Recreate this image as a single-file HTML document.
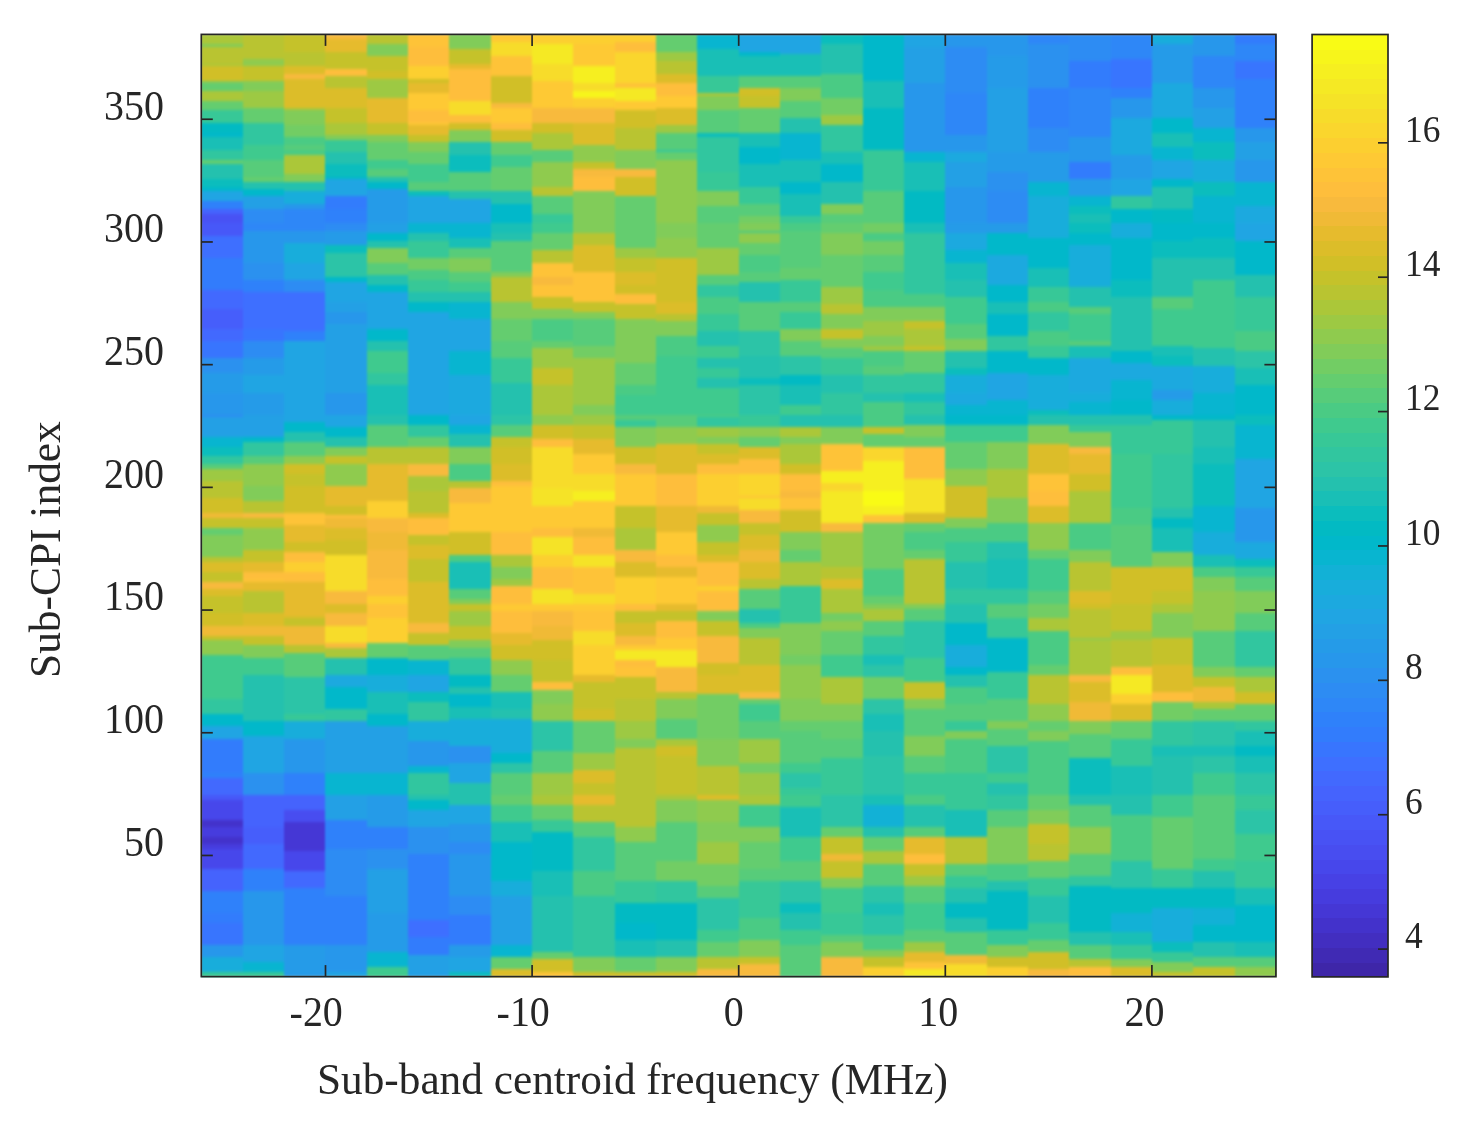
<!DOCTYPE html>
<html><head><meta charset="utf-8"><style>
html,body{margin:0;padding:0;background:#fff;width:1474px;height:1128px;overflow:hidden}
svg{display:block;will-change:transform}
text{font-family:"Liberation Serif",serif;fill:#262626}
</style></head><body>
<svg width="1474" height="1128" viewBox="0 0 1474 1128">
<rect width="1474" height="1128" fill="#fff"/>
<defs><filter id="bl" x="0" y="0" width="1" height="1" color-interpolation-filters="sRGB"><feGaussianBlur stdDeviation="0.9 1.4" edgeMode="duplicate"/></filter></defs>
<g shape-rendering="crispEdges" filter="url(#bl)">
<rect x="201.30" y="34.40" width="41.93" height="10.41" fill="#abc739"/>
<rect x="201.30" y="44.21" width="41.93" height="3.05" fill="#81cc59"/>
<rect x="201.30" y="46.67" width="41.93" height="17.78" fill="#b9c431"/>
<rect x="201.30" y="63.84" width="41.93" height="3.05" fill="#abc739"/>
<rect x="201.30" y="66.30" width="41.93" height="15.32" fill="#d1bf27"/>
<rect x="201.30" y="81.02" width="41.93" height="3.05" fill="#81cc59"/>
<rect x="201.30" y="83.47" width="41.93" height="7.96" fill="#64cd6f"/>
<rect x="201.30" y="90.83" width="41.93" height="10.41" fill="#abc739"/>
<rect x="201.30" y="100.65" width="41.93" height="10.41" fill="#64cd6f"/>
<rect x="201.30" y="110.46" width="41.93" height="12.87" fill="#37c897"/>
<rect x="201.30" y="122.73" width="41.93" height="10.41" fill="#02bac3"/>
<rect x="201.30" y="132.55" width="41.93" height="5.51" fill="#01b8ca"/>
<rect x="201.30" y="137.45" width="41.93" height="12.87" fill="#19bfb6"/>
<rect x="201.30" y="149.72" width="41.93" height="10.41" fill="#31c69f"/>
<rect x="201.30" y="159.54" width="41.93" height="5.51" fill="#64cd6f"/>
<rect x="201.30" y="164.44" width="41.93" height="15.32" fill="#24c1ae"/>
<rect x="201.30" y="179.17" width="41.93" height="7.96" fill="#0bbdbd"/>
<rect x="201.30" y="186.53" width="41.93" height="5.51" fill="#01b8ca"/>
<rect x="201.30" y="191.43" width="41.93" height="10.41" fill="#20a5e3"/>
<rect x="201.30" y="201.25" width="41.93" height="7.96" fill="#2f81fa"/>
<rect x="201.30" y="208.61" width="41.93" height="5.51" fill="#4563fd"/>
<rect x="201.30" y="213.52" width="41.93" height="10.41" fill="#4852f4"/>
<rect x="201.30" y="223.33" width="41.93" height="12.87" fill="#4758f8"/>
<rect x="201.30" y="235.60" width="41.93" height="22.68" fill="#3e6fff"/>
<rect x="201.30" y="257.68" width="41.93" height="22.68" fill="#327cfc"/>
<rect x="201.30" y="279.76" width="41.93" height="10.41" fill="#327cfc"/>
<rect x="201.30" y="289.58" width="41.93" height="20.23" fill="#4269fe"/>
<rect x="201.30" y="309.21" width="41.93" height="20.23" fill="#465efb"/>
<rect x="201.30" y="328.84" width="41.93" height="12.87" fill="#4269fe"/>
<rect x="201.30" y="341.11" width="41.93" height="17.78" fill="#3875fe"/>
<rect x="201.30" y="358.28" width="41.93" height="15.32" fill="#2b91ef"/>
<rect x="201.30" y="373.00" width="41.93" height="20.23" fill="#259be8"/>
<rect x="201.30" y="392.63" width="41.93" height="22.68" fill="#2797eb"/>
<rect x="201.30" y="414.72" width="41.93" height="3.05" fill="#2d8cf3"/>
<rect x="201.30" y="417.17" width="41.93" height="20.23" fill="#23a0e5"/>
<rect x="201.30" y="436.80" width="41.93" height="10.41" fill="#08b5d0"/>
<rect x="201.30" y="446.61" width="41.93" height="10.41" fill="#0bbdbd"/>
<rect x="201.30" y="456.43" width="41.93" height="7.96" fill="#31c69f"/>
<rect x="201.30" y="463.79" width="41.93" height="5.51" fill="#57cc7a"/>
<rect x="201.30" y="468.70" width="41.93" height="12.87" fill="#9dc943"/>
<rect x="201.30" y="480.96" width="41.93" height="17.78" fill="#b9c431"/>
<rect x="201.30" y="498.14" width="41.93" height="15.32" fill="#d1bf27"/>
<rect x="201.30" y="512.86" width="41.93" height="5.51" fill="#f0ba36"/>
<rect x="201.30" y="517.77" width="41.93" height="10.41" fill="#c5c22a"/>
<rect x="201.30" y="527.58" width="41.93" height="7.96" fill="#64cd6f"/>
<rect x="201.30" y="534.94" width="41.93" height="7.96" fill="#81cc59"/>
<rect x="201.30" y="542.30" width="41.93" height="15.32" fill="#81cc59"/>
<rect x="201.30" y="557.03" width="41.93" height="5.51" fill="#b9c431"/>
<rect x="201.30" y="561.93" width="41.93" height="10.41" fill="#dcbd29"/>
<rect x="201.30" y="571.75" width="41.93" height="10.41" fill="#c5c22a"/>
<rect x="201.30" y="581.56" width="41.93" height="7.96" fill="#f8ba3d"/>
<rect x="201.30" y="588.92" width="41.93" height="7.96" fill="#dcbd29"/>
<rect x="201.30" y="596.28" width="41.93" height="17.78" fill="#c5c22a"/>
<rect x="201.30" y="613.46" width="41.93" height="12.87" fill="#d1bf27"/>
<rect x="201.30" y="625.73" width="41.93" height="10.41" fill="#f0ba36"/>
<rect x="201.30" y="635.54" width="41.93" height="5.51" fill="#c5c22a"/>
<rect x="201.30" y="640.45" width="41.93" height="15.32" fill="#8fcb4e"/>
<rect x="201.30" y="655.17" width="41.93" height="44.77" fill="#3fca8e"/>
<rect x="201.30" y="699.34" width="41.93" height="15.32" fill="#31c69f"/>
<rect x="201.30" y="714.06" width="41.93" height="12.87" fill="#01b8ca"/>
<rect x="201.30" y="726.33" width="41.93" height="12.87" fill="#20a5e3"/>
<rect x="201.30" y="738.60" width="41.93" height="34.95" fill="#327cfc"/>
<rect x="201.30" y="772.95" width="41.93" height="5.51" fill="#2f81fa"/>
<rect x="201.30" y="777.85" width="41.93" height="17.78" fill="#4269fe"/>
<rect x="201.30" y="795.03" width="41.93" height="5.51" fill="#4758f8"/>
<rect x="201.30" y="799.94" width="41.93" height="20.23" fill="#4747eb"/>
<rect x="201.30" y="819.57" width="41.93" height="7.96" fill="#4332cb"/>
<rect x="201.30" y="826.93" width="41.93" height="10.41" fill="#463cde"/>
<rect x="201.30" y="836.74" width="41.93" height="7.96" fill="#4332cb"/>
<rect x="201.30" y="844.10" width="41.93" height="5.51" fill="#463cde"/>
<rect x="201.30" y="849.01" width="41.93" height="20.23" fill="#4747eb"/>
<rect x="201.30" y="868.64" width="41.93" height="22.68" fill="#4563fd"/>
<rect x="201.30" y="890.72" width="41.93" height="22.68" fill="#2f81fa"/>
<rect x="201.30" y="912.81" width="41.93" height="10.41" fill="#327cfc"/>
<rect x="201.30" y="922.62" width="41.93" height="22.68" fill="#3875fe"/>
<rect x="201.30" y="944.70" width="41.93" height="12.87" fill="#2797eb"/>
<rect x="201.30" y="956.97" width="41.93" height="15.32" fill="#18addb"/>
<rect x="201.30" y="971.69" width="41.93" height="5.51" fill="#37c897"/>
<rect x="242.63" y="34.40" width="41.93" height="25.14" fill="#b9c431"/>
<rect x="242.63" y="58.94" width="41.93" height="7.96" fill="#8fcb4e"/>
<rect x="242.63" y="66.30" width="41.93" height="15.32" fill="#c5c22a"/>
<rect x="242.63" y="81.02" width="41.93" height="10.41" fill="#81cc59"/>
<rect x="242.63" y="90.83" width="41.93" height="17.78" fill="#9dc943"/>
<rect x="242.63" y="108.01" width="41.93" height="15.32" fill="#64cd6f"/>
<rect x="242.63" y="122.73" width="41.93" height="22.68" fill="#31c69f"/>
<rect x="242.63" y="144.81" width="41.93" height="15.32" fill="#3fca8e"/>
<rect x="242.63" y="159.54" width="41.93" height="17.78" fill="#57cc7a"/>
<rect x="242.63" y="176.71" width="41.93" height="5.51" fill="#64cd6f"/>
<rect x="242.63" y="181.62" width="41.93" height="7.96" fill="#24c1ae"/>
<rect x="242.63" y="188.98" width="41.93" height="7.96" fill="#01b8ca"/>
<rect x="242.63" y="196.34" width="41.93" height="12.87" fill="#23a0e5"/>
<rect x="242.63" y="208.61" width="41.93" height="15.32" fill="#2d8cf3"/>
<rect x="242.63" y="223.33" width="41.93" height="7.96" fill="#2e87f7"/>
<rect x="242.63" y="230.69" width="41.93" height="32.50" fill="#2797eb"/>
<rect x="242.63" y="262.59" width="41.93" height="17.78" fill="#2b91ef"/>
<rect x="242.63" y="279.76" width="41.93" height="12.87" fill="#2f81fa"/>
<rect x="242.63" y="292.03" width="41.93" height="37.40" fill="#3e6fff"/>
<rect x="242.63" y="328.84" width="41.93" height="12.87" fill="#3875fe"/>
<rect x="242.63" y="341.11" width="41.93" height="17.78" fill="#2d8cf3"/>
<rect x="242.63" y="358.28" width="41.93" height="17.78" fill="#259be8"/>
<rect x="242.63" y="375.46" width="41.93" height="17.78" fill="#20a5e3"/>
<rect x="242.63" y="392.63" width="41.93" height="22.68" fill="#259be8"/>
<rect x="242.63" y="414.72" width="41.93" height="22.68" fill="#23a0e5"/>
<rect x="242.63" y="436.80" width="41.93" height="5.51" fill="#01b8ca"/>
<rect x="242.63" y="441.71" width="41.93" height="15.32" fill="#31c69f"/>
<rect x="242.63" y="456.43" width="41.93" height="7.96" fill="#57cc7a"/>
<rect x="242.63" y="463.79" width="41.93" height="22.68" fill="#8fcb4e"/>
<rect x="242.63" y="485.87" width="41.93" height="15.32" fill="#81cc59"/>
<rect x="242.63" y="500.59" width="41.93" height="12.87" fill="#b9c431"/>
<rect x="242.63" y="512.86" width="41.93" height="5.51" fill="#f8ba3d"/>
<rect x="242.63" y="517.77" width="41.93" height="10.41" fill="#c5c22a"/>
<rect x="242.63" y="527.58" width="41.93" height="22.68" fill="#8fcb4e"/>
<rect x="242.63" y="549.67" width="41.93" height="12.87" fill="#c5c22a"/>
<rect x="242.63" y="561.93" width="41.93" height="10.41" fill="#e6bb2d"/>
<rect x="242.63" y="571.75" width="41.93" height="7.96" fill="#febe3c"/>
<rect x="242.63" y="579.11" width="41.93" height="3.05" fill="#fec338"/>
<rect x="242.63" y="581.56" width="41.93" height="10.41" fill="#e6bb2d"/>
<rect x="242.63" y="591.38" width="41.93" height="22.68" fill="#b9c431"/>
<rect x="242.63" y="613.46" width="41.93" height="12.87" fill="#dcbd29"/>
<rect x="242.63" y="625.73" width="41.93" height="10.41" fill="#f0ba36"/>
<rect x="242.63" y="635.54" width="41.93" height="10.41" fill="#c5c22a"/>
<rect x="242.63" y="645.36" width="41.93" height="12.87" fill="#81cc59"/>
<rect x="242.63" y="657.63" width="41.93" height="17.78" fill="#3fca8e"/>
<rect x="242.63" y="674.80" width="41.93" height="47.22" fill="#24c1ae"/>
<rect x="242.63" y="721.42" width="41.93" height="15.32" fill="#01b8ca"/>
<rect x="242.63" y="736.14" width="41.93" height="37.40" fill="#20a5e3"/>
<rect x="242.63" y="772.95" width="41.93" height="22.68" fill="#2b91ef"/>
<rect x="242.63" y="795.03" width="41.93" height="32.50" fill="#4563fd"/>
<rect x="242.63" y="826.93" width="41.93" height="17.78" fill="#465efb"/>
<rect x="242.63" y="844.10" width="41.93" height="25.14" fill="#4269fe"/>
<rect x="242.63" y="868.64" width="41.93" height="22.68" fill="#2f81fa"/>
<rect x="242.63" y="890.72" width="41.93" height="54.58" fill="#2797eb"/>
<rect x="242.63" y="944.70" width="41.93" height="17.78" fill="#20a5e3"/>
<rect x="242.63" y="961.88" width="41.93" height="10.41" fill="#08b5d0"/>
<rect x="242.63" y="971.69" width="41.93" height="5.51" fill="#37c897"/>
<rect x="283.96" y="34.40" width="41.93" height="17.78" fill="#c5c22a"/>
<rect x="283.96" y="51.58" width="41.93" height="7.96" fill="#b9c431"/>
<rect x="283.96" y="58.94" width="41.93" height="7.96" fill="#b9c431"/>
<rect x="283.96" y="66.30" width="41.93" height="7.96" fill="#dcbd29"/>
<rect x="283.96" y="73.66" width="41.93" height="5.51" fill="#f8ba3d"/>
<rect x="283.96" y="78.57" width="41.93" height="30.04" fill="#dcbd29"/>
<rect x="283.96" y="108.01" width="41.93" height="3.05" fill="#abc739"/>
<rect x="283.96" y="110.46" width="41.93" height="15.32" fill="#81cc59"/>
<rect x="283.96" y="125.18" width="41.93" height="12.87" fill="#72cd64"/>
<rect x="283.96" y="137.45" width="41.93" height="7.96" fill="#4acb84"/>
<rect x="283.96" y="144.81" width="41.93" height="5.51" fill="#57cc7a"/>
<rect x="283.96" y="149.72" width="41.93" height="5.51" fill="#4acb84"/>
<rect x="283.96" y="154.63" width="41.93" height="20.23" fill="#abc739"/>
<rect x="283.96" y="174.26" width="41.93" height="7.96" fill="#81cc59"/>
<rect x="283.96" y="181.62" width="41.93" height="10.41" fill="#24c1ae"/>
<rect x="283.96" y="191.43" width="41.93" height="12.87" fill="#18addb"/>
<rect x="283.96" y="203.70" width="41.93" height="5.51" fill="#2797eb"/>
<rect x="283.96" y="208.61" width="41.93" height="22.68" fill="#2e87f7"/>
<rect x="283.96" y="230.69" width="41.93" height="12.87" fill="#2797eb"/>
<rect x="283.96" y="242.96" width="41.93" height="20.23" fill="#18addb"/>
<rect x="283.96" y="262.59" width="41.93" height="17.78" fill="#20a5e3"/>
<rect x="283.96" y="279.76" width="41.93" height="12.87" fill="#2d8cf3"/>
<rect x="283.96" y="292.03" width="41.93" height="39.86" fill="#3e6fff"/>
<rect x="283.96" y="331.29" width="41.93" height="10.41" fill="#2f81fa"/>
<rect x="283.96" y="341.11" width="41.93" height="81.57" fill="#20a5e3"/>
<rect x="283.96" y="422.08" width="41.93" height="10.41" fill="#01b8ca"/>
<rect x="283.96" y="431.89" width="41.93" height="10.41" fill="#24c1ae"/>
<rect x="283.96" y="441.71" width="41.93" height="15.32" fill="#57cc7a"/>
<rect x="283.96" y="456.43" width="41.93" height="7.96" fill="#8fcb4e"/>
<rect x="283.96" y="463.79" width="41.93" height="10.41" fill="#d1bf27"/>
<rect x="283.96" y="473.60" width="41.93" height="12.87" fill="#c5c22a"/>
<rect x="283.96" y="485.87" width="41.93" height="27.59" fill="#d1bf27"/>
<rect x="283.96" y="512.86" width="41.93" height="12.87" fill="#fec338"/>
<rect x="283.96" y="525.13" width="41.93" height="17.78" fill="#e6bb2d"/>
<rect x="283.96" y="542.30" width="41.93" height="10.41" fill="#d1bf27"/>
<rect x="283.96" y="552.12" width="41.93" height="10.41" fill="#febe3c"/>
<rect x="283.96" y="561.93" width="41.93" height="10.41" fill="#fccf30"/>
<rect x="283.96" y="571.75" width="41.93" height="10.41" fill="#febe3c"/>
<rect x="283.96" y="581.56" width="41.93" height="10.41" fill="#e6bb2d"/>
<rect x="283.96" y="591.38" width="41.93" height="25.14" fill="#e6bb2d"/>
<rect x="283.96" y="615.91" width="41.93" height="3.05" fill="#dcbd29"/>
<rect x="283.96" y="618.37" width="41.93" height="7.96" fill="#c5c22a"/>
<rect x="283.96" y="625.73" width="41.93" height="20.23" fill="#f0ba36"/>
<rect x="283.96" y="645.36" width="41.93" height="7.96" fill="#b9c431"/>
<rect x="283.96" y="652.72" width="41.93" height="25.14" fill="#57cc7a"/>
<rect x="283.96" y="677.26" width="41.93" height="37.40" fill="#2cc4a7"/>
<rect x="283.96" y="714.06" width="41.93" height="7.96" fill="#37c897"/>
<rect x="283.96" y="721.42" width="41.93" height="17.78" fill="#18addb"/>
<rect x="283.96" y="738.60" width="41.93" height="34.95" fill="#2797eb"/>
<rect x="283.96" y="772.95" width="41.93" height="22.68" fill="#2f81fa"/>
<rect x="283.96" y="795.03" width="41.93" height="15.32" fill="#4563fd"/>
<rect x="283.96" y="809.75" width="41.93" height="12.87" fill="#484df0"/>
<rect x="283.96" y="822.02" width="41.93" height="30.04" fill="#4537d5"/>
<rect x="283.96" y="851.46" width="41.93" height="20.23" fill="#4747eb"/>
<rect x="283.96" y="871.09" width="41.93" height="17.78" fill="#4269fe"/>
<rect x="283.96" y="888.27" width="41.93" height="57.03" fill="#2f81fa"/>
<rect x="283.96" y="944.70" width="41.93" height="32.50" fill="#259be8"/>
<rect x="325.29" y="34.40" width="41.93" height="5.51" fill="#f8ba3d"/>
<rect x="325.29" y="39.31" width="41.93" height="12.87" fill="#e6bb2d"/>
<rect x="325.29" y="51.58" width="41.93" height="17.78" fill="#c5c22a"/>
<rect x="325.29" y="68.75" width="41.93" height="7.96" fill="#febe3c"/>
<rect x="325.29" y="76.11" width="41.93" height="12.87" fill="#b9c431"/>
<rect x="325.29" y="88.38" width="41.93" height="20.23" fill="#dcbd29"/>
<rect x="325.29" y="108.01" width="41.93" height="15.32" fill="#c5c22a"/>
<rect x="325.29" y="122.73" width="41.93" height="12.87" fill="#abc739"/>
<rect x="325.29" y="135.00" width="41.93" height="5.51" fill="#81cc59"/>
<rect x="325.29" y="139.91" width="41.93" height="12.87" fill="#37c897"/>
<rect x="325.29" y="152.18" width="41.93" height="12.87" fill="#24c1ae"/>
<rect x="325.29" y="164.44" width="41.93" height="12.87" fill="#0bbdbd"/>
<rect x="325.29" y="176.71" width="41.93" height="3.05" fill="#01b8ca"/>
<rect x="325.29" y="179.17" width="41.93" height="17.78" fill="#20a5e3"/>
<rect x="325.29" y="196.34" width="41.93" height="12.87" fill="#327cfc"/>
<rect x="325.29" y="208.61" width="41.93" height="15.32" fill="#2f81fa"/>
<rect x="325.29" y="223.33" width="41.93" height="7.96" fill="#2d8cf3"/>
<rect x="325.29" y="230.69" width="41.93" height="15.32" fill="#259be8"/>
<rect x="325.29" y="245.41" width="41.93" height="7.96" fill="#0bbdbd"/>
<rect x="325.29" y="252.77" width="41.93" height="25.14" fill="#2cc4a7"/>
<rect x="325.29" y="277.31" width="41.93" height="5.51" fill="#01b8ca"/>
<rect x="325.29" y="282.22" width="41.93" height="20.23" fill="#20a5e3"/>
<rect x="325.29" y="301.85" width="41.93" height="10.41" fill="#23a0e5"/>
<rect x="325.29" y="311.66" width="41.93" height="12.87" fill="#2797eb"/>
<rect x="325.29" y="323.93" width="41.93" height="69.30" fill="#23a0e5"/>
<rect x="325.29" y="392.63" width="41.93" height="22.68" fill="#2797eb"/>
<rect x="325.29" y="414.72" width="41.93" height="12.87" fill="#20a5e3"/>
<rect x="325.29" y="426.98" width="41.93" height="10.41" fill="#01b8ca"/>
<rect x="325.29" y="436.80" width="41.93" height="10.41" fill="#24c1ae"/>
<rect x="325.29" y="446.61" width="41.93" height="10.41" fill="#81cc59"/>
<rect x="325.29" y="456.43" width="41.93" height="7.96" fill="#c5c22a"/>
<rect x="325.29" y="463.79" width="41.93" height="22.68" fill="#8fcb4e"/>
<rect x="325.29" y="485.87" width="41.93" height="20.23" fill="#e6bb2d"/>
<rect x="325.29" y="505.50" width="41.93" height="10.41" fill="#d1bf27"/>
<rect x="325.29" y="515.31" width="41.93" height="3.05" fill="#febe3c"/>
<rect x="325.29" y="517.77" width="41.93" height="10.41" fill="#f0ba36"/>
<rect x="325.29" y="527.58" width="41.93" height="12.87" fill="#dcbd29"/>
<rect x="325.29" y="539.85" width="41.93" height="15.32" fill="#d1bf27"/>
<rect x="325.29" y="554.57" width="41.93" height="37.40" fill="#f7dc2a"/>
<rect x="325.29" y="591.38" width="41.93" height="12.87" fill="#f8ba3d"/>
<rect x="325.29" y="603.65" width="41.93" height="10.41" fill="#dcbd29"/>
<rect x="325.29" y="613.46" width="41.93" height="12.87" fill="#f8ba3d"/>
<rect x="325.29" y="625.73" width="41.93" height="17.78" fill="#f7dc2a"/>
<rect x="325.29" y="642.90" width="41.93" height="5.51" fill="#f8ba3d"/>
<rect x="325.29" y="647.81" width="41.93" height="10.41" fill="#abc739"/>
<rect x="325.29" y="657.63" width="41.93" height="17.78" fill="#24c1ae"/>
<rect x="325.29" y="674.80" width="41.93" height="12.87" fill="#1ca9df"/>
<rect x="325.29" y="687.07" width="41.93" height="22.68" fill="#01b8ca"/>
<rect x="325.29" y="709.15" width="41.93" height="12.87" fill="#31c69f"/>
<rect x="325.29" y="721.42" width="41.93" height="52.13" fill="#23a0e5"/>
<rect x="325.29" y="772.95" width="41.93" height="22.68" fill="#08b5d0"/>
<rect x="325.29" y="795.03" width="41.93" height="25.14" fill="#23a0e5"/>
<rect x="325.29" y="819.57" width="41.93" height="30.04" fill="#2f81fa"/>
<rect x="325.29" y="849.01" width="41.93" height="47.22" fill="#2d8cf3"/>
<rect x="325.29" y="895.63" width="41.93" height="49.67" fill="#2f81fa"/>
<rect x="325.29" y="944.70" width="41.93" height="27.59" fill="#2797eb"/>
<rect x="325.29" y="971.69" width="41.93" height="5.51" fill="#20a5e3"/>
<rect x="366.62" y="34.40" width="41.93" height="10.41" fill="#b9c431"/>
<rect x="366.62" y="44.21" width="41.93" height="12.87" fill="#81cc59"/>
<rect x="366.62" y="56.48" width="41.93" height="15.32" fill="#c5c22a"/>
<rect x="366.62" y="71.20" width="41.93" height="7.96" fill="#d1bf27"/>
<rect x="366.62" y="78.57" width="41.93" height="20.23" fill="#9dc943"/>
<rect x="366.62" y="98.19" width="41.93" height="25.14" fill="#e6bb2d"/>
<rect x="366.62" y="122.73" width="41.93" height="12.87" fill="#c5c22a"/>
<rect x="366.62" y="135.00" width="41.93" height="7.96" fill="#81cc59"/>
<rect x="366.62" y="142.36" width="41.93" height="17.78" fill="#64cd6f"/>
<rect x="366.62" y="159.54" width="41.93" height="10.41" fill="#3fca8e"/>
<rect x="366.62" y="169.35" width="41.93" height="7.96" fill="#57cc7a"/>
<rect x="366.62" y="176.71" width="41.93" height="5.51" fill="#24c1ae"/>
<rect x="366.62" y="181.62" width="41.93" height="7.96" fill="#01b8ca"/>
<rect x="366.62" y="188.98" width="41.93" height="34.95" fill="#259be8"/>
<rect x="366.62" y="223.33" width="41.93" height="10.41" fill="#23a0e5"/>
<rect x="366.62" y="233.15" width="41.93" height="7.96" fill="#01b8ca"/>
<rect x="366.62" y="240.51" width="41.93" height="7.96" fill="#24c1ae"/>
<rect x="366.62" y="247.87" width="41.93" height="15.32" fill="#81cc59"/>
<rect x="366.62" y="262.59" width="41.93" height="12.87" fill="#57cc7a"/>
<rect x="366.62" y="274.86" width="41.93" height="10.41" fill="#24c1ae"/>
<rect x="366.62" y="284.67" width="41.93" height="7.96" fill="#01b8ca"/>
<rect x="366.62" y="292.03" width="41.93" height="37.40" fill="#20a5e3"/>
<rect x="366.62" y="328.84" width="41.93" height="12.87" fill="#01b8ca"/>
<rect x="366.62" y="341.11" width="41.93" height="10.41" fill="#24c1ae"/>
<rect x="366.62" y="350.92" width="41.93" height="22.68" fill="#3fca8e"/>
<rect x="366.62" y="373.00" width="41.93" height="12.87" fill="#31c69f"/>
<rect x="366.62" y="385.27" width="41.93" height="30.04" fill="#19bfb6"/>
<rect x="366.62" y="414.72" width="41.93" height="10.41" fill="#24c1ae"/>
<rect x="366.62" y="424.53" width="41.93" height="22.68" fill="#57cc7a"/>
<rect x="366.62" y="446.61" width="41.93" height="17.78" fill="#b9c431"/>
<rect x="366.62" y="463.79" width="41.93" height="37.40" fill="#e6bb2d"/>
<rect x="366.62" y="500.59" width="41.93" height="17.78" fill="#fccf30"/>
<rect x="366.62" y="517.77" width="41.93" height="15.32" fill="#f8ba3d"/>
<rect x="366.62" y="532.49" width="41.93" height="17.78" fill="#f0ba36"/>
<rect x="366.62" y="549.67" width="41.93" height="30.04" fill="#f8ba3d"/>
<rect x="366.62" y="579.11" width="41.93" height="17.78" fill="#febe3c"/>
<rect x="366.62" y="596.28" width="41.93" height="7.96" fill="#fccf30"/>
<rect x="366.62" y="603.65" width="41.93" height="15.32" fill="#fec338"/>
<rect x="366.62" y="618.37" width="41.93" height="25.14" fill="#fccf30"/>
<rect x="366.62" y="642.90" width="41.93" height="15.32" fill="#64cd6f"/>
<rect x="366.62" y="657.63" width="41.93" height="17.78" fill="#01b8ca"/>
<rect x="366.62" y="674.80" width="41.93" height="17.78" fill="#18addb"/>
<rect x="366.62" y="691.98" width="41.93" height="22.68" fill="#19bfb6"/>
<rect x="366.62" y="714.06" width="41.93" height="12.87" fill="#01b8ca"/>
<rect x="366.62" y="726.33" width="41.93" height="47.22" fill="#23a0e5"/>
<rect x="366.62" y="772.95" width="41.93" height="22.68" fill="#08b5d0"/>
<rect x="366.62" y="795.03" width="41.93" height="32.50" fill="#259be8"/>
<rect x="366.62" y="826.93" width="41.93" height="22.68" fill="#2f81fa"/>
<rect x="366.62" y="849.01" width="41.93" height="20.23" fill="#2b91ef"/>
<rect x="366.62" y="868.64" width="41.93" height="44.77" fill="#23a0e5"/>
<rect x="366.62" y="912.81" width="41.93" height="39.86" fill="#259be8"/>
<rect x="366.62" y="952.06" width="41.93" height="15.32" fill="#08b5d0"/>
<rect x="366.62" y="966.79" width="41.93" height="10.41" fill="#3fca8e"/>
<rect x="407.95" y="34.40" width="41.93" height="12.87" fill="#fec338"/>
<rect x="407.95" y="46.67" width="41.93" height="20.23" fill="#febe3c"/>
<rect x="407.95" y="66.30" width="41.93" height="12.87" fill="#fccf30"/>
<rect x="407.95" y="78.57" width="41.93" height="5.51" fill="#d1bf27"/>
<rect x="407.95" y="83.47" width="41.93" height="10.41" fill="#e6bb2d"/>
<rect x="407.95" y="93.29" width="41.93" height="17.78" fill="#fec934"/>
<rect x="407.95" y="110.46" width="41.93" height="12.87" fill="#febe3c"/>
<rect x="407.95" y="122.73" width="41.93" height="3.05" fill="#fec934"/>
<rect x="407.95" y="125.18" width="41.93" height="10.41" fill="#e6bb2d"/>
<rect x="407.95" y="135.00" width="41.93" height="7.96" fill="#c5c22a"/>
<rect x="407.95" y="142.36" width="41.93" height="10.41" fill="#81cc59"/>
<rect x="407.95" y="152.18" width="41.93" height="12.87" fill="#64cd6f"/>
<rect x="407.95" y="164.44" width="41.93" height="17.78" fill="#3fca8e"/>
<rect x="407.95" y="181.62" width="41.93" height="10.41" fill="#57cc7a"/>
<rect x="407.95" y="191.43" width="41.93" height="5.51" fill="#0bbdbd"/>
<rect x="407.95" y="196.34" width="41.93" height="27.59" fill="#20a5e3"/>
<rect x="407.95" y="223.33" width="41.93" height="10.41" fill="#08b5d0"/>
<rect x="407.95" y="233.15" width="41.93" height="7.96" fill="#24c1ae"/>
<rect x="407.95" y="240.51" width="41.93" height="17.78" fill="#37c897"/>
<rect x="407.95" y="257.68" width="41.93" height="12.87" fill="#72cd64"/>
<rect x="407.95" y="269.95" width="41.93" height="10.41" fill="#4acb84"/>
<rect x="407.95" y="279.76" width="41.93" height="12.87" fill="#37c897"/>
<rect x="407.95" y="292.03" width="41.93" height="10.41" fill="#24c1ae"/>
<rect x="407.95" y="301.85" width="41.93" height="10.41" fill="#01b8ca"/>
<rect x="407.95" y="311.66" width="41.93" height="103.65" fill="#20a5e3"/>
<rect x="407.95" y="414.72" width="41.93" height="10.41" fill="#01b8ca"/>
<rect x="407.95" y="424.53" width="41.93" height="12.87" fill="#31c69f"/>
<rect x="407.95" y="436.80" width="41.93" height="10.41" fill="#64cd6f"/>
<rect x="407.95" y="446.61" width="41.93" height="17.78" fill="#b9c431"/>
<rect x="407.95" y="463.79" width="41.93" height="12.87" fill="#f8ba3d"/>
<rect x="407.95" y="476.06" width="41.93" height="15.32" fill="#abc739"/>
<rect x="407.95" y="490.78" width="41.93" height="22.68" fill="#b9c431"/>
<rect x="407.95" y="512.86" width="41.93" height="5.51" fill="#dcbd29"/>
<rect x="407.95" y="517.77" width="41.93" height="17.78" fill="#febe3c"/>
<rect x="407.95" y="534.94" width="41.93" height="10.41" fill="#c5c22a"/>
<rect x="407.95" y="544.76" width="41.93" height="15.32" fill="#dcbd29"/>
<rect x="407.95" y="559.48" width="41.93" height="22.68" fill="#c5c22a"/>
<rect x="407.95" y="581.56" width="41.93" height="42.31" fill="#dcbd29"/>
<rect x="407.95" y="623.27" width="41.93" height="10.41" fill="#f8ba3d"/>
<rect x="407.95" y="633.09" width="41.93" height="12.87" fill="#c5c22a"/>
<rect x="407.95" y="645.36" width="41.93" height="15.32" fill="#57cc7a"/>
<rect x="407.95" y="660.08" width="41.93" height="15.32" fill="#08b5d0"/>
<rect x="407.95" y="674.80" width="41.93" height="17.78" fill="#20a5e3"/>
<rect x="407.95" y="691.98" width="41.93" height="10.41" fill="#0bbdbd"/>
<rect x="407.95" y="701.79" width="41.93" height="20.23" fill="#31c69f"/>
<rect x="407.95" y="721.42" width="41.93" height="20.23" fill="#18addb"/>
<rect x="407.95" y="741.05" width="41.93" height="25.14" fill="#2797eb"/>
<rect x="407.95" y="765.59" width="41.93" height="7.96" fill="#08b5d0"/>
<rect x="407.95" y="772.95" width="41.93" height="22.68" fill="#31c69f"/>
<rect x="407.95" y="795.03" width="41.93" height="5.51" fill="#24c1ae"/>
<rect x="407.95" y="799.94" width="41.93" height="10.41" fill="#01b8ca"/>
<rect x="407.95" y="809.75" width="41.93" height="17.78" fill="#20a5e3"/>
<rect x="407.95" y="826.93" width="41.93" height="27.59" fill="#2b91ef"/>
<rect x="407.95" y="853.92" width="41.93" height="66.85" fill="#2f81fa"/>
<rect x="407.95" y="920.17" width="41.93" height="17.78" fill="#3e6fff"/>
<rect x="407.95" y="937.34" width="41.93" height="17.78" fill="#327cfc"/>
<rect x="407.95" y="954.52" width="41.93" height="22.68" fill="#23a0e5"/>
<rect x="449.28" y="34.40" width="41.93" height="15.32" fill="#81cc59"/>
<rect x="449.28" y="49.12" width="41.93" height="15.32" fill="#c5c22a"/>
<rect x="449.28" y="63.84" width="41.93" height="5.51" fill="#e6bb2d"/>
<rect x="449.28" y="68.75" width="41.93" height="32.50" fill="#febe3c"/>
<rect x="449.28" y="100.65" width="41.93" height="15.32" fill="#f7dc2a"/>
<rect x="449.28" y="115.37" width="41.93" height="7.96" fill="#febe3c"/>
<rect x="449.28" y="122.73" width="41.93" height="7.96" fill="#d1bf27"/>
<rect x="449.28" y="130.09" width="41.93" height="12.87" fill="#81cc59"/>
<rect x="449.28" y="142.36" width="41.93" height="12.87" fill="#24c1ae"/>
<rect x="449.28" y="154.63" width="41.93" height="17.78" fill="#0bbdbd"/>
<rect x="449.28" y="171.80" width="41.93" height="20.23" fill="#57cc7a"/>
<rect x="449.28" y="191.43" width="41.93" height="7.96" fill="#24c1ae"/>
<rect x="449.28" y="198.79" width="41.93" height="25.14" fill="#20a5e3"/>
<rect x="449.28" y="223.33" width="41.93" height="15.32" fill="#08b5d0"/>
<rect x="449.28" y="238.05" width="41.93" height="10.41" fill="#19bfb6"/>
<rect x="449.28" y="247.87" width="41.93" height="10.41" fill="#57cc7a"/>
<rect x="449.28" y="257.68" width="41.93" height="15.32" fill="#81cc59"/>
<rect x="449.28" y="272.40" width="41.93" height="10.41" fill="#57cc7a"/>
<rect x="449.28" y="282.22" width="41.93" height="10.41" fill="#3fca8e"/>
<rect x="449.28" y="292.03" width="41.93" height="10.41" fill="#24c1ae"/>
<rect x="449.28" y="301.85" width="41.93" height="17.78" fill="#08b5d0"/>
<rect x="449.28" y="319.02" width="41.93" height="32.50" fill="#20a5e3"/>
<rect x="449.28" y="350.92" width="41.93" height="25.14" fill="#08b5d0"/>
<rect x="449.28" y="375.46" width="41.93" height="39.86" fill="#1ca9df"/>
<rect x="449.28" y="414.72" width="41.93" height="10.41" fill="#20a5e3"/>
<rect x="449.28" y="424.53" width="41.93" height="10.41" fill="#08b5d0"/>
<rect x="449.28" y="434.34" width="41.93" height="12.87" fill="#24c1ae"/>
<rect x="449.28" y="446.61" width="41.93" height="17.78" fill="#81cc59"/>
<rect x="449.28" y="463.79" width="41.93" height="17.78" fill="#4acb84"/>
<rect x="449.28" y="480.96" width="41.93" height="7.96" fill="#b9c431"/>
<rect x="449.28" y="488.32" width="41.93" height="15.32" fill="#f8ba3d"/>
<rect x="449.28" y="503.05" width="41.93" height="30.04" fill="#fec934"/>
<rect x="449.28" y="532.49" width="41.93" height="22.68" fill="#d1bf27"/>
<rect x="449.28" y="554.57" width="41.93" height="7.96" fill="#4acb84"/>
<rect x="449.28" y="561.93" width="41.93" height="27.59" fill="#19bfb6"/>
<rect x="449.28" y="588.92" width="41.93" height="10.41" fill="#57cc7a"/>
<rect x="449.28" y="598.74" width="41.93" height="5.51" fill="#81cc59"/>
<rect x="449.28" y="603.65" width="41.93" height="7.96" fill="#c5c22a"/>
<rect x="449.28" y="611.01" width="41.93" height="15.32" fill="#9dc943"/>
<rect x="449.28" y="625.73" width="41.93" height="15.32" fill="#c5c22a"/>
<rect x="449.28" y="640.45" width="41.93" height="7.96" fill="#81cc59"/>
<rect x="449.28" y="647.81" width="41.93" height="10.41" fill="#57cc7a"/>
<rect x="449.28" y="657.63" width="41.93" height="17.78" fill="#31c69f"/>
<rect x="449.28" y="674.80" width="41.93" height="12.87" fill="#02bac3"/>
<rect x="449.28" y="687.07" width="41.93" height="7.96" fill="#24c1ae"/>
<rect x="449.28" y="694.43" width="41.93" height="12.87" fill="#01b8ca"/>
<rect x="449.28" y="706.70" width="41.93" height="12.87" fill="#19bfb6"/>
<rect x="449.28" y="718.97" width="41.93" height="27.59" fill="#18addb"/>
<rect x="449.28" y="745.96" width="41.93" height="17.78" fill="#2b91ef"/>
<rect x="449.28" y="763.13" width="41.93" height="20.23" fill="#20a5e3"/>
<rect x="449.28" y="782.76" width="41.93" height="22.68" fill="#24c1ae"/>
<rect x="449.28" y="804.84" width="41.93" height="20.23" fill="#20a5e3"/>
<rect x="449.28" y="824.47" width="41.93" height="17.78" fill="#2797eb"/>
<rect x="449.28" y="841.65" width="41.93" height="12.87" fill="#2d8cf3"/>
<rect x="449.28" y="853.92" width="41.93" height="42.31" fill="#2797eb"/>
<rect x="449.28" y="895.63" width="41.93" height="20.23" fill="#2d8cf3"/>
<rect x="449.28" y="915.26" width="41.93" height="30.04" fill="#327cfc"/>
<rect x="449.28" y="944.70" width="41.93" height="12.87" fill="#259be8"/>
<rect x="449.28" y="956.97" width="41.93" height="15.32" fill="#20a5e3"/>
<rect x="449.28" y="971.69" width="41.93" height="5.51" fill="#0bbdbd"/>
<rect x="490.62" y="34.40" width="41.93" height="7.96" fill="#fec934"/>
<rect x="490.62" y="41.76" width="41.93" height="15.32" fill="#f7dc2a"/>
<rect x="490.62" y="56.48" width="41.93" height="20.23" fill="#fec338"/>
<rect x="490.62" y="76.11" width="41.93" height="27.59" fill="#d1bf27"/>
<rect x="490.62" y="103.10" width="41.93" height="5.51" fill="#f8ba3d"/>
<rect x="490.62" y="108.01" width="41.93" height="15.32" fill="#fec934"/>
<rect x="490.62" y="122.73" width="41.93" height="7.96" fill="#febe3c"/>
<rect x="490.62" y="130.09" width="41.93" height="12.87" fill="#d1bf27"/>
<rect x="490.62" y="142.36" width="41.93" height="12.87" fill="#64cd6f"/>
<rect x="490.62" y="154.63" width="41.93" height="12.87" fill="#3fca8e"/>
<rect x="490.62" y="166.90" width="41.93" height="25.14" fill="#64cd6f"/>
<rect x="490.62" y="191.43" width="41.93" height="12.87" fill="#24c1ae"/>
<rect x="490.62" y="203.70" width="41.93" height="20.23" fill="#01b8ca"/>
<rect x="490.62" y="223.33" width="41.93" height="10.41" fill="#19bfb6"/>
<rect x="490.62" y="233.15" width="41.93" height="7.96" fill="#24c1ae"/>
<rect x="490.62" y="240.51" width="41.93" height="32.50" fill="#57cc7a"/>
<rect x="490.62" y="272.40" width="41.93" height="5.51" fill="#81cc59"/>
<rect x="490.62" y="277.31" width="41.93" height="25.14" fill="#b9c431"/>
<rect x="490.62" y="301.85" width="41.93" height="17.78" fill="#81cc59"/>
<rect x="490.62" y="319.02" width="41.93" height="22.68" fill="#64cd6f"/>
<rect x="490.62" y="341.11" width="41.93" height="17.78" fill="#57cc7a"/>
<rect x="490.62" y="358.28" width="41.93" height="25.14" fill="#37c897"/>
<rect x="490.62" y="382.82" width="41.93" height="32.50" fill="#24c1ae"/>
<rect x="490.62" y="414.72" width="41.93" height="10.41" fill="#2cc4a7"/>
<rect x="490.62" y="424.53" width="41.93" height="12.87" fill="#57cc7a"/>
<rect x="490.62" y="436.80" width="41.93" height="10.41" fill="#c5c22a"/>
<rect x="490.62" y="446.61" width="41.93" height="17.78" fill="#d1bf27"/>
<rect x="490.62" y="463.79" width="41.93" height="17.78" fill="#dcbd29"/>
<rect x="490.62" y="480.96" width="41.93" height="5.51" fill="#febe3c"/>
<rect x="490.62" y="485.87" width="41.93" height="47.22" fill="#fec934"/>
<rect x="490.62" y="532.49" width="41.93" height="22.68" fill="#febe3c"/>
<rect x="490.62" y="554.57" width="41.93" height="12.87" fill="#abc739"/>
<rect x="490.62" y="566.84" width="41.93" height="12.87" fill="#81cc59"/>
<rect x="490.62" y="579.11" width="41.93" height="7.96" fill="#9dc943"/>
<rect x="490.62" y="586.47" width="41.93" height="17.78" fill="#febe3c"/>
<rect x="490.62" y="603.65" width="41.93" height="7.96" fill="#fec934"/>
<rect x="490.62" y="611.01" width="41.93" height="22.68" fill="#febe3c"/>
<rect x="490.62" y="633.09" width="41.93" height="12.87" fill="#e6bb2d"/>
<rect x="490.62" y="645.36" width="41.93" height="15.32" fill="#d1bf27"/>
<rect x="490.62" y="660.08" width="41.93" height="15.32" fill="#8fcb4e"/>
<rect x="490.62" y="674.80" width="41.93" height="17.78" fill="#64cd6f"/>
<rect x="490.62" y="691.98" width="41.93" height="17.78" fill="#19bfb6"/>
<rect x="490.62" y="709.15" width="41.93" height="10.41" fill="#24c1ae"/>
<rect x="490.62" y="718.97" width="41.93" height="34.95" fill="#18addb"/>
<rect x="490.62" y="753.32" width="41.93" height="10.41" fill="#01b8ca"/>
<rect x="490.62" y="763.13" width="41.93" height="10.41" fill="#2cc4a7"/>
<rect x="490.62" y="772.95" width="41.93" height="22.68" fill="#57cc7a"/>
<rect x="490.62" y="795.03" width="41.93" height="10.41" fill="#64cd6f"/>
<rect x="490.62" y="804.84" width="41.93" height="17.78" fill="#3fca8e"/>
<rect x="490.62" y="822.02" width="41.93" height="20.23" fill="#19bfb6"/>
<rect x="490.62" y="841.65" width="41.93" height="39.86" fill="#01b8ca"/>
<rect x="490.62" y="880.91" width="41.93" height="15.32" fill="#18addb"/>
<rect x="490.62" y="895.63" width="41.93" height="49.67" fill="#23a0e5"/>
<rect x="490.62" y="944.70" width="41.93" height="12.87" fill="#08b5d0"/>
<rect x="490.62" y="956.97" width="41.93" height="12.87" fill="#64cd6f"/>
<rect x="490.62" y="969.24" width="41.93" height="7.96" fill="#dcbd29"/>
<rect x="531.95" y="34.40" width="41.93" height="10.41" fill="#fccf30"/>
<rect x="531.95" y="44.21" width="41.93" height="20.23" fill="#f5e924"/>
<rect x="531.95" y="63.84" width="41.93" height="17.78" fill="#f7dc2a"/>
<rect x="531.95" y="81.02" width="41.93" height="27.59" fill="#fec934"/>
<rect x="531.95" y="108.01" width="41.93" height="15.32" fill="#f8ba3d"/>
<rect x="531.95" y="122.73" width="41.93" height="10.41" fill="#d1bf27"/>
<rect x="531.95" y="132.55" width="41.93" height="17.78" fill="#abc739"/>
<rect x="531.95" y="149.72" width="41.93" height="12.87" fill="#57cc7a"/>
<rect x="531.95" y="161.99" width="41.93" height="25.14" fill="#8fcb4e"/>
<rect x="531.95" y="186.53" width="41.93" height="10.41" fill="#b9c431"/>
<rect x="531.95" y="196.34" width="41.93" height="17.78" fill="#57cc7a"/>
<rect x="531.95" y="213.52" width="41.93" height="10.41" fill="#37c897"/>
<rect x="531.95" y="223.33" width="41.93" height="10.41" fill="#3fca8e"/>
<rect x="531.95" y="233.15" width="41.93" height="17.78" fill="#64cd6f"/>
<rect x="531.95" y="250.32" width="41.93" height="12.87" fill="#b9c431"/>
<rect x="531.95" y="262.59" width="41.93" height="15.32" fill="#fec338"/>
<rect x="531.95" y="277.31" width="41.93" height="7.96" fill="#f8ba3d"/>
<rect x="531.95" y="284.67" width="41.93" height="12.87" fill="#fec338"/>
<rect x="531.95" y="296.94" width="41.93" height="12.87" fill="#c5c22a"/>
<rect x="531.95" y="309.21" width="41.93" height="10.41" fill="#81cc59"/>
<rect x="531.95" y="319.02" width="41.93" height="22.68" fill="#4acb84"/>
<rect x="531.95" y="341.11" width="41.93" height="7.96" fill="#64cd6f"/>
<rect x="531.95" y="348.47" width="41.93" height="20.23" fill="#9dc943"/>
<rect x="531.95" y="368.10" width="41.93" height="17.78" fill="#c5c22a"/>
<rect x="531.95" y="385.27" width="41.93" height="30.04" fill="#abc739"/>
<rect x="531.95" y="414.72" width="41.93" height="10.41" fill="#8fcb4e"/>
<rect x="531.95" y="424.53" width="41.93" height="15.32" fill="#d1bf27"/>
<rect x="531.95" y="439.25" width="41.93" height="7.96" fill="#febe3c"/>
<rect x="531.95" y="446.61" width="41.93" height="42.31" fill="#f7dc2a"/>
<rect x="531.95" y="488.32" width="41.93" height="17.78" fill="#f5e327"/>
<rect x="531.95" y="505.50" width="41.93" height="22.68" fill="#fec934"/>
<rect x="531.95" y="527.58" width="41.93" height="10.41" fill="#febe3c"/>
<rect x="531.95" y="537.40" width="41.93" height="17.78" fill="#f5e327"/>
<rect x="531.95" y="554.57" width="41.93" height="12.87" fill="#fccf30"/>
<rect x="531.95" y="566.84" width="41.93" height="22.68" fill="#febe3c"/>
<rect x="531.95" y="588.92" width="41.93" height="15.32" fill="#f5e327"/>
<rect x="531.95" y="603.65" width="41.93" height="7.96" fill="#fec934"/>
<rect x="531.95" y="611.01" width="41.93" height="15.32" fill="#f8ba3d"/>
<rect x="531.95" y="625.73" width="41.93" height="15.32" fill="#f0ba36"/>
<rect x="531.95" y="640.45" width="41.93" height="20.23" fill="#d1bf27"/>
<rect x="531.95" y="660.08" width="41.93" height="22.68" fill="#c5c22a"/>
<rect x="531.95" y="682.16" width="41.93" height="7.96" fill="#febe3c"/>
<rect x="531.95" y="689.52" width="41.93" height="15.32" fill="#81cc59"/>
<rect x="531.95" y="704.25" width="41.93" height="17.78" fill="#8fcb4e"/>
<rect x="531.95" y="721.42" width="41.93" height="30.04" fill="#2cc4a7"/>
<rect x="531.95" y="750.86" width="41.93" height="22.68" fill="#57cc7a"/>
<rect x="531.95" y="772.95" width="41.93" height="22.68" fill="#9dc943"/>
<rect x="531.95" y="795.03" width="41.93" height="10.41" fill="#abc739"/>
<rect x="531.95" y="804.84" width="41.93" height="15.32" fill="#64cd6f"/>
<rect x="531.95" y="819.57" width="41.93" height="12.87" fill="#37c897"/>
<rect x="531.95" y="831.83" width="41.93" height="39.86" fill="#02bac3"/>
<rect x="531.95" y="871.09" width="41.93" height="25.14" fill="#19bfb6"/>
<rect x="531.95" y="895.63" width="41.93" height="57.03" fill="#24c1ae"/>
<rect x="531.95" y="952.06" width="41.93" height="7.96" fill="#64cd6f"/>
<rect x="531.95" y="959.42" width="41.93" height="12.87" fill="#d1bf27"/>
<rect x="531.95" y="971.69" width="41.93" height="5.51" fill="#fec338"/>
<rect x="573.28" y="34.40" width="41.93" height="10.41" fill="#fccf30"/>
<rect x="573.28" y="44.21" width="41.93" height="22.68" fill="#fec934"/>
<rect x="573.28" y="66.30" width="41.93" height="17.78" fill="#f6ef20"/>
<rect x="573.28" y="83.47" width="41.93" height="7.96" fill="#f7dc2a"/>
<rect x="573.28" y="90.83" width="41.93" height="7.96" fill="#f7f51b"/>
<rect x="573.28" y="98.19" width="41.93" height="10.41" fill="#fccf30"/>
<rect x="573.28" y="108.01" width="41.93" height="15.32" fill="#f8ba3d"/>
<rect x="573.28" y="122.73" width="41.93" height="22.68" fill="#dcbd29"/>
<rect x="573.28" y="144.81" width="41.93" height="17.78" fill="#8fcb4e"/>
<rect x="573.28" y="161.99" width="41.93" height="7.96" fill="#c5c22a"/>
<rect x="573.28" y="169.35" width="41.93" height="7.96" fill="#f8ba3d"/>
<rect x="573.28" y="176.71" width="41.93" height="15.32" fill="#febe3c"/>
<rect x="573.28" y="191.43" width="41.93" height="42.31" fill="#81cc59"/>
<rect x="573.28" y="233.15" width="41.93" height="12.87" fill="#b9c431"/>
<rect x="573.28" y="245.41" width="41.93" height="27.59" fill="#dcbd29"/>
<rect x="573.28" y="272.40" width="41.93" height="30.04" fill="#fec338"/>
<rect x="573.28" y="301.85" width="41.93" height="10.41" fill="#c5c22a"/>
<rect x="573.28" y="311.66" width="41.93" height="7.96" fill="#81cc59"/>
<rect x="573.28" y="319.02" width="41.93" height="27.59" fill="#57cc7a"/>
<rect x="573.28" y="346.01" width="41.93" height="12.87" fill="#72cd64"/>
<rect x="573.28" y="358.28" width="41.93" height="47.22" fill="#9dc943"/>
<rect x="573.28" y="404.90" width="41.93" height="10.41" fill="#81cc59"/>
<rect x="573.28" y="414.72" width="41.93" height="10.41" fill="#9dc943"/>
<rect x="573.28" y="424.53" width="41.93" height="15.32" fill="#c5c22a"/>
<rect x="573.28" y="439.25" width="41.93" height="15.32" fill="#e6bb2d"/>
<rect x="573.28" y="453.97" width="41.93" height="20.23" fill="#fec934"/>
<rect x="573.28" y="473.60" width="41.93" height="17.78" fill="#f7dc2a"/>
<rect x="573.28" y="490.78" width="41.93" height="10.41" fill="#f6ef20"/>
<rect x="573.28" y="500.59" width="41.93" height="27.59" fill="#fec934"/>
<rect x="573.28" y="527.58" width="41.93" height="10.41" fill="#f0ba36"/>
<rect x="573.28" y="537.40" width="41.93" height="17.78" fill="#febe3c"/>
<rect x="573.28" y="554.57" width="41.93" height="12.87" fill="#f5e327"/>
<rect x="573.28" y="566.84" width="41.93" height="27.59" fill="#fec338"/>
<rect x="573.28" y="593.83" width="41.93" height="10.41" fill="#f7dc2a"/>
<rect x="573.28" y="603.65" width="41.93" height="7.96" fill="#fec934"/>
<rect x="573.28" y="611.01" width="41.93" height="20.23" fill="#fec338"/>
<rect x="573.28" y="630.64" width="41.93" height="15.32" fill="#f7dc2a"/>
<rect x="573.28" y="645.36" width="41.93" height="30.04" fill="#fccf30"/>
<rect x="573.28" y="674.80" width="41.93" height="7.96" fill="#e6bb2d"/>
<rect x="573.28" y="682.16" width="41.93" height="27.59" fill="#c5c22a"/>
<rect x="573.28" y="709.15" width="41.93" height="12.87" fill="#d1bf27"/>
<rect x="573.28" y="721.42" width="41.93" height="32.50" fill="#64cd6f"/>
<rect x="573.28" y="753.32" width="41.93" height="17.78" fill="#9dc943"/>
<rect x="573.28" y="770.49" width="41.93" height="12.87" fill="#dcbd29"/>
<rect x="573.28" y="782.76" width="41.93" height="12.87" fill="#c5c22a"/>
<rect x="573.28" y="795.03" width="41.93" height="10.41" fill="#e6bb2d"/>
<rect x="573.28" y="804.84" width="41.93" height="17.78" fill="#b9c431"/>
<rect x="573.28" y="822.02" width="41.93" height="15.32" fill="#57cc7a"/>
<rect x="573.28" y="836.74" width="41.93" height="34.95" fill="#31c69f"/>
<rect x="573.28" y="871.09" width="41.93" height="25.14" fill="#4acb84"/>
<rect x="573.28" y="895.63" width="41.93" height="61.94" fill="#31c69f"/>
<rect x="573.28" y="956.97" width="41.93" height="15.32" fill="#81cc59"/>
<rect x="573.28" y="971.69" width="41.93" height="5.51" fill="#d1bf27"/>
<rect x="614.61" y="34.40" width="41.93" height="7.96" fill="#fccf30"/>
<rect x="614.61" y="41.76" width="41.93" height="10.41" fill="#febe3c"/>
<rect x="614.61" y="51.58" width="41.93" height="32.50" fill="#fad62d"/>
<rect x="614.61" y="83.47" width="41.93" height="5.51" fill="#fec338"/>
<rect x="614.61" y="88.38" width="41.93" height="12.87" fill="#f5e924"/>
<rect x="614.61" y="100.65" width="41.93" height="10.41" fill="#fec934"/>
<rect x="614.61" y="110.46" width="41.93" height="17.78" fill="#d1bf27"/>
<rect x="614.61" y="127.64" width="41.93" height="22.68" fill="#b9c431"/>
<rect x="614.61" y="149.72" width="41.93" height="20.23" fill="#81cc59"/>
<rect x="614.61" y="169.35" width="41.93" height="7.96" fill="#f8ba3d"/>
<rect x="614.61" y="176.71" width="41.93" height="20.23" fill="#d1bf27"/>
<rect x="614.61" y="196.34" width="41.93" height="52.13" fill="#64cd6f"/>
<rect x="614.61" y="247.87" width="41.93" height="10.41" fill="#9dc943"/>
<rect x="614.61" y="257.68" width="41.93" height="15.32" fill="#c5c22a"/>
<rect x="614.61" y="272.40" width="41.93" height="12.87" fill="#dcbd29"/>
<rect x="614.61" y="284.67" width="41.93" height="10.41" fill="#d1bf27"/>
<rect x="614.61" y="294.49" width="41.93" height="10.41" fill="#febe3c"/>
<rect x="614.61" y="304.30" width="41.93" height="15.32" fill="#c5c22a"/>
<rect x="614.61" y="319.02" width="41.93" height="44.77" fill="#81cc59"/>
<rect x="614.61" y="363.19" width="41.93" height="22.68" fill="#64cd6f"/>
<rect x="614.61" y="385.27" width="41.93" height="10.41" fill="#4acb84"/>
<rect x="614.61" y="395.09" width="41.93" height="20.23" fill="#3fca8e"/>
<rect x="614.61" y="414.72" width="41.93" height="5.51" fill="#57cc7a"/>
<rect x="614.61" y="419.62" width="41.93" height="7.96" fill="#37c897"/>
<rect x="614.61" y="426.98" width="41.93" height="20.23" fill="#81cc59"/>
<rect x="614.61" y="446.61" width="41.93" height="17.78" fill="#d1bf27"/>
<rect x="614.61" y="463.79" width="41.93" height="10.41" fill="#f8ba3d"/>
<rect x="614.61" y="473.60" width="41.93" height="32.50" fill="#fec934"/>
<rect x="614.61" y="505.50" width="41.93" height="22.68" fill="#c5c22a"/>
<rect x="614.61" y="527.58" width="41.93" height="22.68" fill="#abc739"/>
<rect x="614.61" y="549.67" width="41.93" height="12.87" fill="#f8ba3d"/>
<rect x="614.61" y="561.93" width="41.93" height="15.32" fill="#dcbd29"/>
<rect x="614.61" y="576.66" width="41.93" height="27.59" fill="#fccf30"/>
<rect x="614.61" y="603.65" width="41.93" height="7.96" fill="#febe3c"/>
<rect x="614.61" y="611.01" width="41.93" height="12.87" fill="#c5c22a"/>
<rect x="614.61" y="623.27" width="41.93" height="12.87" fill="#dcbd29"/>
<rect x="614.61" y="635.54" width="41.93" height="10.41" fill="#f8ba3d"/>
<rect x="614.61" y="645.36" width="41.93" height="5.51" fill="#fec934"/>
<rect x="614.61" y="650.27" width="41.93" height="10.41" fill="#f5e924"/>
<rect x="614.61" y="660.08" width="41.93" height="7.96" fill="#febe3c"/>
<rect x="614.61" y="667.44" width="41.93" height="10.41" fill="#fec338"/>
<rect x="614.61" y="677.26" width="41.93" height="22.68" fill="#c5c22a"/>
<rect x="614.61" y="699.34" width="41.93" height="22.68" fill="#b9c431"/>
<rect x="614.61" y="721.42" width="41.93" height="17.78" fill="#9dc943"/>
<rect x="614.61" y="738.60" width="41.93" height="10.41" fill="#81cc59"/>
<rect x="614.61" y="748.41" width="41.93" height="47.22" fill="#b9c431"/>
<rect x="614.61" y="795.03" width="41.93" height="32.50" fill="#b9c431"/>
<rect x="614.61" y="826.93" width="41.93" height="15.32" fill="#8fcb4e"/>
<rect x="614.61" y="841.65" width="41.93" height="39.86" fill="#57cc7a"/>
<rect x="614.61" y="880.91" width="41.93" height="22.68" fill="#37c897"/>
<rect x="614.61" y="902.99" width="41.93" height="20.23" fill="#02bac3"/>
<rect x="614.61" y="922.62" width="41.93" height="17.78" fill="#01b8ca"/>
<rect x="614.61" y="939.80" width="41.93" height="17.78" fill="#19bfb6"/>
<rect x="614.61" y="956.97" width="41.93" height="15.32" fill="#64cd6f"/>
<rect x="614.61" y="971.69" width="41.93" height="5.51" fill="#d1bf27"/>
<rect x="655.94" y="34.40" width="41.93" height="17.78" fill="#64cd6f"/>
<rect x="655.94" y="51.58" width="41.93" height="10.41" fill="#9dc943"/>
<rect x="655.94" y="61.39" width="41.93" height="12.87" fill="#b9c431"/>
<rect x="655.94" y="73.66" width="41.93" height="10.41" fill="#dcbd29"/>
<rect x="655.94" y="83.47" width="41.93" height="12.87" fill="#febe3c"/>
<rect x="655.94" y="95.74" width="41.93" height="12.87" fill="#fec934"/>
<rect x="655.94" y="108.01" width="41.93" height="17.78" fill="#dcbd29"/>
<rect x="655.94" y="125.18" width="41.93" height="7.96" fill="#9dc943"/>
<rect x="655.94" y="132.55" width="41.93" height="17.78" fill="#57cc7a"/>
<rect x="655.94" y="149.72" width="41.93" height="3.05" fill="#31c69f"/>
<rect x="655.94" y="152.18" width="41.93" height="7.96" fill="#64cd6f"/>
<rect x="655.94" y="159.54" width="41.93" height="64.39" fill="#8fcb4e"/>
<rect x="655.94" y="223.33" width="41.93" height="15.32" fill="#81cc59"/>
<rect x="655.94" y="238.05" width="41.93" height="20.23" fill="#8fcb4e"/>
<rect x="655.94" y="257.68" width="41.93" height="44.77" fill="#d1bf27"/>
<rect x="655.94" y="301.85" width="41.93" height="12.87" fill="#dcbd29"/>
<rect x="655.94" y="314.12" width="41.93" height="7.96" fill="#b9c431"/>
<rect x="655.94" y="321.48" width="41.93" height="15.32" fill="#81cc59"/>
<rect x="655.94" y="336.20" width="41.93" height="20.23" fill="#4acb84"/>
<rect x="655.94" y="355.83" width="41.93" height="59.49" fill="#3fca8e"/>
<rect x="655.94" y="414.72" width="41.93" height="12.87" fill="#57cc7a"/>
<rect x="655.94" y="426.98" width="41.93" height="17.78" fill="#8fcb4e"/>
<rect x="655.94" y="444.16" width="41.93" height="30.04" fill="#dcbd29"/>
<rect x="655.94" y="473.60" width="41.93" height="32.50" fill="#febe3c"/>
<rect x="655.94" y="505.50" width="41.93" height="27.59" fill="#e6bb2d"/>
<rect x="655.94" y="532.49" width="41.93" height="22.68" fill="#fec934"/>
<rect x="655.94" y="554.57" width="41.93" height="12.87" fill="#febe3c"/>
<rect x="655.94" y="566.84" width="41.93" height="10.41" fill="#e6bb2d"/>
<rect x="655.94" y="576.66" width="41.93" height="27.59" fill="#fec934"/>
<rect x="655.94" y="603.65" width="41.93" height="7.96" fill="#e6bb2d"/>
<rect x="655.94" y="611.01" width="41.93" height="10.41" fill="#c5c22a"/>
<rect x="655.94" y="620.82" width="41.93" height="17.78" fill="#febe3c"/>
<rect x="655.94" y="638.00" width="41.93" height="12.87" fill="#fec934"/>
<rect x="655.94" y="650.27" width="41.93" height="17.78" fill="#f5e924"/>
<rect x="655.94" y="667.44" width="41.93" height="25.14" fill="#f8ba3d"/>
<rect x="655.94" y="691.98" width="41.93" height="7.96" fill="#b9c431"/>
<rect x="655.94" y="699.34" width="41.93" height="20.23" fill="#81cc59"/>
<rect x="655.94" y="718.97" width="41.93" height="20.23" fill="#57cc7a"/>
<rect x="655.94" y="738.60" width="41.93" height="7.96" fill="#abc739"/>
<rect x="655.94" y="745.96" width="41.93" height="10.41" fill="#d1bf27"/>
<rect x="655.94" y="755.77" width="41.93" height="39.86" fill="#c5c22a"/>
<rect x="655.94" y="795.03" width="41.93" height="5.51" fill="#abc739"/>
<rect x="655.94" y="799.94" width="41.93" height="22.68" fill="#81cc59"/>
<rect x="655.94" y="822.02" width="41.93" height="39.86" fill="#57cc7a"/>
<rect x="655.94" y="861.28" width="41.93" height="20.23" fill="#72cd64"/>
<rect x="655.94" y="880.91" width="41.93" height="22.68" fill="#31c69f"/>
<rect x="655.94" y="902.99" width="41.93" height="37.40" fill="#02bac3"/>
<rect x="655.94" y="939.80" width="41.93" height="17.78" fill="#24c1ae"/>
<rect x="655.94" y="956.97" width="41.93" height="15.32" fill="#81cc59"/>
<rect x="655.94" y="971.69" width="41.93" height="5.51" fill="#d1bf27"/>
<rect x="697.27" y="34.40" width="41.93" height="15.32" fill="#08b5d0"/>
<rect x="697.27" y="49.12" width="41.93" height="27.59" fill="#19bfb6"/>
<rect x="697.27" y="76.11" width="41.93" height="17.78" fill="#37c897"/>
<rect x="697.27" y="93.29" width="41.93" height="3.05" fill="#abc739"/>
<rect x="697.27" y="95.74" width="41.93" height="15.32" fill="#81cc59"/>
<rect x="697.27" y="110.46" width="41.93" height="22.68" fill="#57cc7a"/>
<rect x="697.27" y="132.55" width="41.93" height="5.51" fill="#0bbdbd"/>
<rect x="697.27" y="137.45" width="41.93" height="34.95" fill="#31c69f"/>
<rect x="697.27" y="171.80" width="41.93" height="20.23" fill="#37c897"/>
<rect x="697.27" y="191.43" width="41.93" height="15.32" fill="#81cc59"/>
<rect x="697.27" y="206.16" width="41.93" height="17.78" fill="#57cc7a"/>
<rect x="697.27" y="223.33" width="41.93" height="25.14" fill="#64cd6f"/>
<rect x="697.27" y="247.87" width="41.93" height="27.59" fill="#9dc943"/>
<rect x="697.27" y="274.86" width="41.93" height="10.41" fill="#57cc7a"/>
<rect x="697.27" y="284.67" width="41.93" height="12.87" fill="#31c69f"/>
<rect x="697.27" y="296.94" width="41.93" height="17.78" fill="#4acb84"/>
<rect x="697.27" y="314.12" width="41.93" height="17.78" fill="#37c897"/>
<rect x="697.27" y="331.29" width="41.93" height="15.32" fill="#24c1ae"/>
<rect x="697.27" y="346.01" width="41.93" height="12.87" fill="#3fca8e"/>
<rect x="697.27" y="358.28" width="41.93" height="10.41" fill="#24c1ae"/>
<rect x="697.27" y="368.10" width="41.93" height="10.41" fill="#37c897"/>
<rect x="697.27" y="377.91" width="41.93" height="10.41" fill="#24c1ae"/>
<rect x="697.27" y="387.72" width="41.93" height="27.59" fill="#3fca8e"/>
<rect x="697.27" y="414.72" width="41.93" height="3.05" fill="#4acb84"/>
<rect x="697.27" y="417.17" width="41.93" height="10.41" fill="#31c69f"/>
<rect x="697.27" y="426.98" width="41.93" height="10.41" fill="#9dc943"/>
<rect x="697.27" y="436.80" width="41.93" height="7.96" fill="#81cc59"/>
<rect x="697.27" y="444.16" width="41.93" height="10.41" fill="#c5c22a"/>
<rect x="697.27" y="453.97" width="41.93" height="10.41" fill="#dcbd29"/>
<rect x="697.27" y="463.79" width="41.93" height="10.41" fill="#febe3c"/>
<rect x="697.27" y="473.60" width="41.93" height="32.50" fill="#fccf30"/>
<rect x="697.27" y="505.50" width="41.93" height="7.96" fill="#f0ba36"/>
<rect x="697.27" y="512.86" width="41.93" height="12.87" fill="#c5c22a"/>
<rect x="697.27" y="525.13" width="41.93" height="17.78" fill="#8fcb4e"/>
<rect x="697.27" y="542.30" width="41.93" height="12.87" fill="#c5c22a"/>
<rect x="697.27" y="554.57" width="41.93" height="7.96" fill="#dcbd29"/>
<rect x="697.27" y="561.93" width="41.93" height="25.14" fill="#febe3c"/>
<rect x="697.27" y="586.47" width="41.93" height="5.51" fill="#fccf30"/>
<rect x="697.27" y="591.38" width="41.93" height="12.87" fill="#febe3c"/>
<rect x="697.27" y="603.65" width="41.93" height="7.96" fill="#febe3c"/>
<rect x="697.27" y="611.01" width="41.93" height="10.41" fill="#81cc59"/>
<rect x="697.27" y="620.82" width="41.93" height="15.32" fill="#c5c22a"/>
<rect x="697.27" y="635.54" width="41.93" height="27.59" fill="#f8ba3d"/>
<rect x="697.27" y="662.53" width="41.93" height="12.87" fill="#d1bf27"/>
<rect x="697.27" y="674.80" width="41.93" height="20.23" fill="#dcbd29"/>
<rect x="697.27" y="694.43" width="41.93" height="44.77" fill="#72cd64"/>
<rect x="697.27" y="738.60" width="41.93" height="27.59" fill="#81cc59"/>
<rect x="697.27" y="765.59" width="41.93" height="30.04" fill="#b9c431"/>
<rect x="697.27" y="795.03" width="41.93" height="5.51" fill="#dcbd29"/>
<rect x="697.27" y="799.94" width="41.93" height="22.68" fill="#8fcb4e"/>
<rect x="697.27" y="822.02" width="41.93" height="20.23" fill="#81cc59"/>
<rect x="697.27" y="841.65" width="41.93" height="22.68" fill="#9dc943"/>
<rect x="697.27" y="863.73" width="41.93" height="22.68" fill="#72cd64"/>
<rect x="697.27" y="885.82" width="41.93" height="12.87" fill="#57cc7a"/>
<rect x="697.27" y="898.08" width="41.93" height="32.50" fill="#2cc4a7"/>
<rect x="697.27" y="929.98" width="41.93" height="12.87" fill="#3fca8e"/>
<rect x="697.27" y="942.25" width="41.93" height="15.32" fill="#64cd6f"/>
<rect x="697.27" y="956.97" width="41.93" height="12.87" fill="#b9c431"/>
<rect x="697.27" y="969.24" width="41.93" height="7.96" fill="#f8ba3d"/>
<rect x="738.60" y="34.40" width="41.93" height="17.78" fill="#20a5e3"/>
<rect x="738.60" y="51.58" width="41.93" height="5.51" fill="#01b8ca"/>
<rect x="738.60" y="56.48" width="41.93" height="20.23" fill="#19bfb6"/>
<rect x="738.60" y="76.11" width="41.93" height="12.87" fill="#57cc7a"/>
<rect x="738.60" y="88.38" width="41.93" height="7.96" fill="#d1bf27"/>
<rect x="738.60" y="95.74" width="41.93" height="12.87" fill="#c5c22a"/>
<rect x="738.60" y="108.01" width="41.93" height="25.14" fill="#64cd6f"/>
<rect x="738.60" y="132.55" width="41.93" height="15.32" fill="#19bfb6"/>
<rect x="738.60" y="147.27" width="41.93" height="17.78" fill="#01b8ca"/>
<rect x="738.60" y="164.44" width="41.93" height="22.68" fill="#19bfb6"/>
<rect x="738.60" y="186.53" width="41.93" height="17.78" fill="#37c897"/>
<rect x="738.60" y="203.70" width="41.93" height="12.87" fill="#57cc7a"/>
<rect x="738.60" y="215.97" width="41.93" height="7.96" fill="#72cd64"/>
<rect x="738.60" y="223.33" width="41.93" height="7.96" fill="#81cc59"/>
<rect x="738.60" y="230.69" width="41.93" height="3.05" fill="#4acb84"/>
<rect x="738.60" y="233.15" width="41.93" height="10.41" fill="#8fcb4e"/>
<rect x="738.60" y="242.96" width="41.93" height="12.87" fill="#64cd6f"/>
<rect x="738.60" y="255.23" width="41.93" height="17.78" fill="#4acb84"/>
<rect x="738.60" y="272.40" width="41.93" height="10.41" fill="#57cc7a"/>
<rect x="738.60" y="282.22" width="41.93" height="20.23" fill="#24c1ae"/>
<rect x="738.60" y="301.85" width="41.93" height="30.04" fill="#57cc7a"/>
<rect x="738.60" y="331.29" width="41.93" height="25.14" fill="#2cc4a7"/>
<rect x="738.60" y="355.83" width="41.93" height="22.68" fill="#24c1ae"/>
<rect x="738.60" y="377.91" width="41.93" height="7.96" fill="#0bbdbd"/>
<rect x="738.60" y="385.27" width="41.93" height="30.04" fill="#2cc4a7"/>
<rect x="738.60" y="414.72" width="41.93" height="12.87" fill="#37c897"/>
<rect x="738.60" y="426.98" width="41.93" height="10.41" fill="#8fcb4e"/>
<rect x="738.60" y="436.80" width="41.93" height="10.41" fill="#64cd6f"/>
<rect x="738.60" y="446.61" width="41.93" height="12.87" fill="#dcbd29"/>
<rect x="738.60" y="458.88" width="41.93" height="15.32" fill="#febe3c"/>
<rect x="738.60" y="473.60" width="41.93" height="22.68" fill="#fad62d"/>
<rect x="738.60" y="495.69" width="41.93" height="3.05" fill="#fec338"/>
<rect x="738.60" y="498.14" width="41.93" height="12.87" fill="#f7dc2a"/>
<rect x="738.60" y="510.41" width="41.93" height="12.87" fill="#f8ba3d"/>
<rect x="738.60" y="522.68" width="41.93" height="12.87" fill="#c5c22a"/>
<rect x="738.60" y="534.94" width="41.93" height="15.32" fill="#dcbd29"/>
<rect x="738.60" y="549.67" width="41.93" height="12.87" fill="#f0ba36"/>
<rect x="738.60" y="561.93" width="41.93" height="17.78" fill="#dcbd29"/>
<rect x="738.60" y="579.11" width="41.93" height="10.41" fill="#b9c431"/>
<rect x="738.60" y="588.92" width="41.93" height="20.23" fill="#57cc7a"/>
<rect x="738.60" y="608.55" width="41.93" height="15.32" fill="#24c1ae"/>
<rect x="738.60" y="623.27" width="41.93" height="5.51" fill="#4acb84"/>
<rect x="738.60" y="628.18" width="41.93" height="10.41" fill="#81cc59"/>
<rect x="738.60" y="638.00" width="41.93" height="27.59" fill="#b9c431"/>
<rect x="738.60" y="664.99" width="41.93" height="27.59" fill="#dcbd29"/>
<rect x="738.60" y="691.98" width="41.93" height="7.96" fill="#f8ba3d"/>
<rect x="738.60" y="699.34" width="41.93" height="5.51" fill="#64cd6f"/>
<rect x="738.60" y="704.25" width="41.93" height="17.78" fill="#3fca8e"/>
<rect x="738.60" y="721.42" width="41.93" height="17.78" fill="#57cc7a"/>
<rect x="738.60" y="738.60" width="41.93" height="25.14" fill="#9dc943"/>
<rect x="738.60" y="763.13" width="41.93" height="10.41" fill="#72cd64"/>
<rect x="738.60" y="772.95" width="41.93" height="22.68" fill="#9dc943"/>
<rect x="738.60" y="795.03" width="41.93" height="10.41" fill="#abc739"/>
<rect x="738.60" y="804.84" width="41.93" height="22.68" fill="#3fca8e"/>
<rect x="738.60" y="826.93" width="41.93" height="15.32" fill="#81cc59"/>
<rect x="738.60" y="841.65" width="41.93" height="27.59" fill="#64cd6f"/>
<rect x="738.60" y="868.64" width="41.93" height="12.87" fill="#57cc7a"/>
<rect x="738.60" y="880.91" width="41.93" height="37.40" fill="#37c897"/>
<rect x="738.60" y="917.71" width="41.93" height="22.68" fill="#4acb84"/>
<rect x="738.60" y="939.80" width="41.93" height="17.78" fill="#81cc59"/>
<rect x="738.60" y="956.97" width="41.93" height="7.96" fill="#c5c22a"/>
<rect x="738.60" y="964.33" width="41.93" height="12.87" fill="#f8ba3d"/>
<rect x="779.93" y="34.40" width="41.93" height="20.23" fill="#20a5e3"/>
<rect x="779.93" y="54.03" width="41.93" height="22.68" fill="#19bfb6"/>
<rect x="779.93" y="76.11" width="41.93" height="12.87" fill="#57cc7a"/>
<rect x="779.93" y="88.38" width="41.93" height="12.87" fill="#81cc59"/>
<rect x="779.93" y="100.65" width="41.93" height="17.78" fill="#57cc7a"/>
<rect x="779.93" y="117.82" width="41.93" height="15.32" fill="#24c1ae"/>
<rect x="779.93" y="132.55" width="41.93" height="27.59" fill="#08b5d0"/>
<rect x="779.93" y="159.54" width="41.93" height="22.68" fill="#19bfb6"/>
<rect x="779.93" y="181.62" width="41.93" height="12.87" fill="#01b8ca"/>
<rect x="779.93" y="193.89" width="41.93" height="22.68" fill="#19bfb6"/>
<rect x="779.93" y="215.97" width="41.93" height="7.96" fill="#37c897"/>
<rect x="779.93" y="223.33" width="41.93" height="7.96" fill="#4acb84"/>
<rect x="779.93" y="230.69" width="41.93" height="37.40" fill="#57cc7a"/>
<rect x="779.93" y="267.50" width="41.93" height="12.87" fill="#64cd6f"/>
<rect x="779.93" y="279.76" width="41.93" height="22.68" fill="#37c897"/>
<rect x="779.93" y="301.85" width="41.93" height="10.41" fill="#57cc7a"/>
<rect x="779.93" y="311.66" width="41.93" height="17.78" fill="#37c897"/>
<rect x="779.93" y="328.84" width="41.93" height="12.87" fill="#81cc59"/>
<rect x="779.93" y="341.11" width="41.93" height="15.32" fill="#57cc7a"/>
<rect x="779.93" y="355.83" width="41.93" height="20.23" fill="#2cc4a7"/>
<rect x="779.93" y="375.46" width="41.93" height="10.41" fill="#02bac3"/>
<rect x="779.93" y="385.27" width="41.93" height="20.23" fill="#19bfb6"/>
<rect x="779.93" y="404.90" width="41.93" height="10.41" fill="#3fca8e"/>
<rect x="779.93" y="414.72" width="41.93" height="12.87" fill="#24c1ae"/>
<rect x="779.93" y="426.98" width="41.93" height="10.41" fill="#abc739"/>
<rect x="779.93" y="436.80" width="41.93" height="7.96" fill="#81cc59"/>
<rect x="779.93" y="444.16" width="41.93" height="20.23" fill="#abc739"/>
<rect x="779.93" y="463.79" width="41.93" height="10.41" fill="#d1bf27"/>
<rect x="779.93" y="473.60" width="41.93" height="17.78" fill="#febe3c"/>
<rect x="779.93" y="490.78" width="41.93" height="7.96" fill="#f8ba3d"/>
<rect x="779.93" y="498.14" width="41.93" height="12.87" fill="#fec338"/>
<rect x="779.93" y="510.41" width="41.93" height="22.68" fill="#d1bf27"/>
<rect x="779.93" y="532.49" width="41.93" height="17.78" fill="#81cc59"/>
<rect x="779.93" y="549.67" width="41.93" height="12.87" fill="#64cd6f"/>
<rect x="779.93" y="561.93" width="41.93" height="25.14" fill="#abc739"/>
<rect x="779.93" y="586.47" width="41.93" height="37.40" fill="#37c897"/>
<rect x="779.93" y="623.27" width="41.93" height="32.50" fill="#81cc59"/>
<rect x="779.93" y="655.17" width="41.93" height="10.41" fill="#72cd64"/>
<rect x="779.93" y="664.99" width="41.93" height="34.95" fill="#8fcb4e"/>
<rect x="779.93" y="699.34" width="41.93" height="22.68" fill="#81cc59"/>
<rect x="779.93" y="721.42" width="41.93" height="10.41" fill="#64cd6f"/>
<rect x="779.93" y="731.24" width="41.93" height="32.50" fill="#57cc7a"/>
<rect x="779.93" y="763.13" width="41.93" height="10.41" fill="#3fca8e"/>
<rect x="779.93" y="772.95" width="41.93" height="15.32" fill="#2cc4a7"/>
<rect x="779.93" y="787.67" width="41.93" height="7.96" fill="#37c897"/>
<rect x="779.93" y="795.03" width="41.93" height="12.87" fill="#3fca8e"/>
<rect x="779.93" y="807.30" width="41.93" height="30.04" fill="#19bfb6"/>
<rect x="779.93" y="836.74" width="41.93" height="25.14" fill="#3fca8e"/>
<rect x="779.93" y="861.28" width="41.93" height="20.23" fill="#57cc7a"/>
<rect x="779.93" y="880.91" width="41.93" height="22.68" fill="#2cc4a7"/>
<rect x="779.93" y="902.99" width="41.93" height="10.41" fill="#0bbdbd"/>
<rect x="779.93" y="912.81" width="41.93" height="17.78" fill="#24c1ae"/>
<rect x="779.93" y="929.98" width="41.93" height="15.32" fill="#3fca8e"/>
<rect x="779.93" y="944.70" width="41.93" height="32.50" fill="#57cc7a"/>
<rect x="821.26" y="34.40" width="41.93" height="10.41" fill="#0bbdbd"/>
<rect x="821.26" y="44.21" width="41.93" height="30.04" fill="#24c1ae"/>
<rect x="821.26" y="73.66" width="41.93" height="25.14" fill="#4acb84"/>
<rect x="821.26" y="98.19" width="41.93" height="17.78" fill="#72cd64"/>
<rect x="821.26" y="115.37" width="41.93" height="10.41" fill="#9dc943"/>
<rect x="821.26" y="125.18" width="41.93" height="27.59" fill="#31c69f"/>
<rect x="821.26" y="152.18" width="41.93" height="12.87" fill="#19bfb6"/>
<rect x="821.26" y="164.44" width="41.93" height="17.78" fill="#01b8ca"/>
<rect x="821.26" y="181.62" width="41.93" height="22.68" fill="#24c1ae"/>
<rect x="821.26" y="203.70" width="41.93" height="10.41" fill="#81cc59"/>
<rect x="821.26" y="213.52" width="41.93" height="10.41" fill="#57cc7a"/>
<rect x="821.26" y="223.33" width="41.93" height="10.41" fill="#64cd6f"/>
<rect x="821.26" y="233.15" width="41.93" height="22.68" fill="#81cc59"/>
<rect x="821.26" y="255.23" width="41.93" height="32.50" fill="#64cd6f"/>
<rect x="821.26" y="287.13" width="41.93" height="17.78" fill="#9dc943"/>
<rect x="821.26" y="304.30" width="41.93" height="10.41" fill="#b9c431"/>
<rect x="821.26" y="314.12" width="41.93" height="15.32" fill="#81cc59"/>
<rect x="821.26" y="328.84" width="41.93" height="10.41" fill="#c5c22a"/>
<rect x="821.26" y="338.65" width="41.93" height="10.41" fill="#81cc59"/>
<rect x="821.26" y="348.47" width="41.93" height="10.41" fill="#57cc7a"/>
<rect x="821.26" y="358.28" width="41.93" height="17.78" fill="#37c897"/>
<rect x="821.26" y="375.46" width="41.93" height="17.78" fill="#24c1ae"/>
<rect x="821.26" y="392.63" width="41.93" height="22.68" fill="#31c69f"/>
<rect x="821.26" y="414.72" width="41.93" height="12.87" fill="#24c1ae"/>
<rect x="821.26" y="426.98" width="41.93" height="17.78" fill="#81cc59"/>
<rect x="821.26" y="444.16" width="41.93" height="27.59" fill="#fec338"/>
<rect x="821.26" y="471.15" width="41.93" height="12.87" fill="#f6ef20"/>
<rect x="821.26" y="483.42" width="41.93" height="7.96" fill="#fad62d"/>
<rect x="821.26" y="490.78" width="41.93" height="32.50" fill="#f5e924"/>
<rect x="821.26" y="522.68" width="41.93" height="10.41" fill="#f8ba3d"/>
<rect x="821.26" y="532.49" width="41.93" height="34.95" fill="#9dc943"/>
<rect x="821.26" y="566.84" width="41.93" height="12.87" fill="#b9c431"/>
<rect x="821.26" y="579.11" width="41.93" height="10.41" fill="#dcbd29"/>
<rect x="821.26" y="588.92" width="41.93" height="15.32" fill="#abc739"/>
<rect x="821.26" y="603.65" width="41.93" height="10.41" fill="#abc739"/>
<rect x="821.26" y="613.46" width="41.93" height="7.96" fill="#72cd64"/>
<rect x="821.26" y="620.82" width="41.93" height="10.41" fill="#8fcb4e"/>
<rect x="821.26" y="630.64" width="41.93" height="25.14" fill="#64cd6f"/>
<rect x="821.26" y="655.17" width="41.93" height="22.68" fill="#3fca8e"/>
<rect x="821.26" y="677.26" width="41.93" height="27.59" fill="#abc739"/>
<rect x="821.26" y="704.25" width="41.93" height="17.78" fill="#81cc59"/>
<rect x="821.26" y="721.42" width="41.93" height="17.78" fill="#64cd6f"/>
<rect x="821.26" y="738.60" width="41.93" height="20.23" fill="#57cc7a"/>
<rect x="821.26" y="758.23" width="41.93" height="37.40" fill="#37c897"/>
<rect x="821.26" y="795.03" width="41.93" height="32.50" fill="#2cc4a7"/>
<rect x="821.26" y="826.93" width="41.93" height="10.41" fill="#64cd6f"/>
<rect x="821.26" y="836.74" width="41.93" height="17.78" fill="#c5c22a"/>
<rect x="821.26" y="853.92" width="41.93" height="7.96" fill="#f0ba36"/>
<rect x="821.26" y="861.28" width="41.93" height="17.78" fill="#c5c22a"/>
<rect x="821.26" y="878.45" width="41.93" height="10.41" fill="#81cc59"/>
<rect x="821.26" y="888.27" width="41.93" height="25.14" fill="#3fca8e"/>
<rect x="821.26" y="912.81" width="41.93" height="22.68" fill="#37c897"/>
<rect x="821.26" y="934.89" width="41.93" height="7.96" fill="#57cc7a"/>
<rect x="821.26" y="942.25" width="41.93" height="15.32" fill="#81cc59"/>
<rect x="821.26" y="956.97" width="41.93" height="20.23" fill="#f8ba3d"/>
<rect x="862.59" y="34.40" width="41.93" height="47.22" fill="#01b8ca"/>
<rect x="862.59" y="81.02" width="41.93" height="27.59" fill="#19bfb6"/>
<rect x="862.59" y="108.01" width="41.93" height="42.31" fill="#02bac3"/>
<rect x="862.59" y="149.72" width="41.93" height="42.31" fill="#37c897"/>
<rect x="862.59" y="191.43" width="41.93" height="32.50" fill="#57cc7a"/>
<rect x="862.59" y="223.33" width="41.93" height="10.41" fill="#72cd64"/>
<rect x="862.59" y="233.15" width="41.93" height="7.96" fill="#4acb84"/>
<rect x="862.59" y="240.51" width="41.93" height="15.32" fill="#72cd64"/>
<rect x="862.59" y="255.23" width="41.93" height="17.78" fill="#57cc7a"/>
<rect x="862.59" y="272.40" width="41.93" height="17.78" fill="#3fca8e"/>
<rect x="862.59" y="289.58" width="41.93" height="17.78" fill="#4acb84"/>
<rect x="862.59" y="306.75" width="41.93" height="15.32" fill="#81cc59"/>
<rect x="862.59" y="321.48" width="41.93" height="15.32" fill="#9dc943"/>
<rect x="862.59" y="336.20" width="41.93" height="10.41" fill="#81cc59"/>
<rect x="862.59" y="346.01" width="41.93" height="5.51" fill="#9dc943"/>
<rect x="862.59" y="350.92" width="41.93" height="15.32" fill="#4acb84"/>
<rect x="862.59" y="365.64" width="41.93" height="10.41" fill="#57cc7a"/>
<rect x="862.59" y="375.46" width="41.93" height="17.78" fill="#31c69f"/>
<rect x="862.59" y="392.63" width="41.93" height="10.41" fill="#24c1ae"/>
<rect x="862.59" y="402.45" width="41.93" height="25.14" fill="#4acb84"/>
<rect x="862.59" y="426.98" width="41.93" height="7.96" fill="#c5c22a"/>
<rect x="862.59" y="434.34" width="41.93" height="12.87" fill="#64cd6f"/>
<rect x="862.59" y="446.61" width="41.93" height="15.32" fill="#fad62d"/>
<rect x="862.59" y="461.33" width="41.93" height="30.04" fill="#f6ef20"/>
<rect x="862.59" y="490.78" width="41.93" height="15.32" fill="#f9fb15"/>
<rect x="862.59" y="505.50" width="41.93" height="10.41" fill="#f6ef20"/>
<rect x="862.59" y="515.31" width="41.93" height="7.96" fill="#fec338"/>
<rect x="862.59" y="522.68" width="41.93" height="47.22" fill="#72cd64"/>
<rect x="862.59" y="569.29" width="41.93" height="27.59" fill="#4acb84"/>
<rect x="862.59" y="596.28" width="41.93" height="7.96" fill="#64cd6f"/>
<rect x="862.59" y="603.65" width="41.93" height="5.51" fill="#81cc59"/>
<rect x="862.59" y="608.55" width="41.93" height="12.87" fill="#abc739"/>
<rect x="862.59" y="620.82" width="41.93" height="15.32" fill="#57cc7a"/>
<rect x="862.59" y="635.54" width="41.93" height="20.23" fill="#31c69f"/>
<rect x="862.59" y="655.17" width="41.93" height="10.41" fill="#19bfb6"/>
<rect x="862.59" y="664.99" width="41.93" height="12.87" fill="#2cc4a7"/>
<rect x="862.59" y="677.26" width="41.93" height="22.68" fill="#72cd64"/>
<rect x="862.59" y="699.34" width="41.93" height="15.32" fill="#2cc4a7"/>
<rect x="862.59" y="714.06" width="41.93" height="17.78" fill="#19bfb6"/>
<rect x="862.59" y="731.24" width="41.93" height="25.14" fill="#24c1ae"/>
<rect x="862.59" y="755.77" width="41.93" height="39.86" fill="#2cc4a7"/>
<rect x="862.59" y="795.03" width="41.93" height="10.41" fill="#19bfb6"/>
<rect x="862.59" y="804.84" width="41.93" height="22.68" fill="#12b1d6"/>
<rect x="862.59" y="826.93" width="41.93" height="10.41" fill="#24c1ae"/>
<rect x="862.59" y="836.74" width="41.93" height="15.32" fill="#64cd6f"/>
<rect x="862.59" y="851.46" width="41.93" height="12.87" fill="#abc739"/>
<rect x="862.59" y="863.73" width="41.93" height="22.68" fill="#57cc7a"/>
<rect x="862.59" y="885.82" width="41.93" height="17.78" fill="#2cc4a7"/>
<rect x="862.59" y="902.99" width="41.93" height="12.87" fill="#19bfb6"/>
<rect x="862.59" y="915.26" width="41.93" height="20.23" fill="#2cc4a7"/>
<rect x="862.59" y="934.89" width="41.93" height="15.32" fill="#4acb84"/>
<rect x="862.59" y="949.61" width="41.93" height="7.96" fill="#81cc59"/>
<rect x="862.59" y="956.97" width="41.93" height="10.41" fill="#c5c22a"/>
<rect x="862.59" y="966.79" width="41.93" height="10.41" fill="#fccf30"/>
<rect x="903.92" y="34.40" width="41.93" height="12.87" fill="#20a5e3"/>
<rect x="903.92" y="46.67" width="41.93" height="37.40" fill="#23a0e5"/>
<rect x="903.92" y="83.47" width="41.93" height="69.30" fill="#2797eb"/>
<rect x="903.92" y="152.18" width="41.93" height="10.41" fill="#08b5d0"/>
<rect x="903.92" y="161.99" width="41.93" height="30.04" fill="#19bfb6"/>
<rect x="903.92" y="191.43" width="41.93" height="32.50" fill="#02bac3"/>
<rect x="903.92" y="223.33" width="41.93" height="10.41" fill="#19bfb6"/>
<rect x="903.92" y="233.15" width="41.93" height="61.94" fill="#31c69f"/>
<rect x="903.92" y="294.49" width="41.93" height="12.87" fill="#4acb84"/>
<rect x="903.92" y="306.75" width="41.93" height="15.32" fill="#81cc59"/>
<rect x="903.92" y="321.48" width="41.93" height="7.96" fill="#c5c22a"/>
<rect x="903.92" y="328.84" width="41.93" height="17.78" fill="#abc739"/>
<rect x="903.92" y="346.01" width="41.93" height="5.51" fill="#c5c22a"/>
<rect x="903.92" y="350.92" width="41.93" height="22.68" fill="#64cd6f"/>
<rect x="903.92" y="373.00" width="41.93" height="20.23" fill="#31c69f"/>
<rect x="903.92" y="392.63" width="41.93" height="10.41" fill="#19bfb6"/>
<rect x="903.92" y="402.45" width="41.93" height="12.87" fill="#31c69f"/>
<rect x="903.92" y="414.72" width="41.93" height="10.41" fill="#24c1ae"/>
<rect x="903.92" y="424.53" width="41.93" height="12.87" fill="#81cc59"/>
<rect x="903.92" y="436.80" width="41.93" height="10.41" fill="#64cd6f"/>
<rect x="903.92" y="446.61" width="41.93" height="32.50" fill="#febe3c"/>
<rect x="903.92" y="478.51" width="41.93" height="34.95" fill="#f5e327"/>
<rect x="903.92" y="512.86" width="41.93" height="10.41" fill="#dcbd29"/>
<rect x="903.92" y="522.68" width="41.93" height="10.41" fill="#64cd6f"/>
<rect x="903.92" y="532.49" width="41.93" height="17.78" fill="#4acb84"/>
<rect x="903.92" y="549.67" width="41.93" height="10.41" fill="#64cd6f"/>
<rect x="903.92" y="559.48" width="41.93" height="44.77" fill="#b9c431"/>
<rect x="903.92" y="603.65" width="41.93" height="5.51" fill="#81cc59"/>
<rect x="903.92" y="608.55" width="41.93" height="12.87" fill="#57cc7a"/>
<rect x="903.92" y="620.82" width="41.93" height="37.40" fill="#2cc4a7"/>
<rect x="903.92" y="657.63" width="41.93" height="25.14" fill="#3fca8e"/>
<rect x="903.92" y="682.16" width="41.93" height="17.78" fill="#c5c22a"/>
<rect x="903.92" y="699.34" width="41.93" height="10.41" fill="#81cc59"/>
<rect x="903.92" y="709.15" width="41.93" height="27.59" fill="#57cc7a"/>
<rect x="903.92" y="736.14" width="41.93" height="20.23" fill="#81cc59"/>
<rect x="903.92" y="755.77" width="41.93" height="17.78" fill="#57cc7a"/>
<rect x="903.92" y="772.95" width="41.93" height="22.68" fill="#37c897"/>
<rect x="903.92" y="795.03" width="41.93" height="10.41" fill="#4acb84"/>
<rect x="903.92" y="804.84" width="41.93" height="22.68" fill="#24c1ae"/>
<rect x="903.92" y="826.93" width="41.93" height="10.41" fill="#57cc7a"/>
<rect x="903.92" y="836.74" width="41.93" height="17.78" fill="#e6bb2d"/>
<rect x="903.92" y="853.92" width="41.93" height="10.41" fill="#febe3c"/>
<rect x="903.92" y="863.73" width="41.93" height="12.87" fill="#c5c22a"/>
<rect x="903.92" y="876.00" width="41.93" height="10.41" fill="#9dc943"/>
<rect x="903.92" y="885.82" width="41.93" height="17.78" fill="#57cc7a"/>
<rect x="903.92" y="902.99" width="41.93" height="27.59" fill="#3fca8e"/>
<rect x="903.92" y="929.98" width="41.93" height="12.87" fill="#57cc7a"/>
<rect x="903.92" y="942.25" width="41.93" height="10.41" fill="#9dc943"/>
<rect x="903.92" y="952.06" width="41.93" height="10.41" fill="#e6bb2d"/>
<rect x="903.92" y="961.88" width="41.93" height="7.96" fill="#fec338"/>
<rect x="903.92" y="969.24" width="41.93" height="7.96" fill="#f5e924"/>
<rect x="945.25" y="34.40" width="41.93" height="12.87" fill="#2797eb"/>
<rect x="945.25" y="46.67" width="41.93" height="47.22" fill="#2d8cf3"/>
<rect x="945.25" y="93.29" width="41.93" height="42.31" fill="#2e87f7"/>
<rect x="945.25" y="135.00" width="41.93" height="17.78" fill="#2797eb"/>
<rect x="945.25" y="152.18" width="41.93" height="10.41" fill="#1ca9df"/>
<rect x="945.25" y="161.99" width="41.93" height="25.14" fill="#23a0e5"/>
<rect x="945.25" y="186.53" width="41.93" height="37.40" fill="#2797eb"/>
<rect x="945.25" y="223.33" width="41.93" height="10.41" fill="#259be8"/>
<rect x="945.25" y="233.15" width="41.93" height="17.78" fill="#1ca9df"/>
<rect x="945.25" y="250.32" width="41.93" height="12.87" fill="#08b5d0"/>
<rect x="945.25" y="262.59" width="41.93" height="17.78" fill="#19bfb6"/>
<rect x="945.25" y="279.76" width="41.93" height="17.78" fill="#24c1ae"/>
<rect x="945.25" y="296.94" width="41.93" height="27.59" fill="#3fca8e"/>
<rect x="945.25" y="323.93" width="41.93" height="15.32" fill="#57cc7a"/>
<rect x="945.25" y="338.65" width="41.93" height="12.87" fill="#81cc59"/>
<rect x="945.25" y="350.92" width="41.93" height="17.78" fill="#24c1ae"/>
<rect x="945.25" y="368.10" width="41.93" height="7.96" fill="#0bbdbd"/>
<rect x="945.25" y="375.46" width="41.93" height="17.78" fill="#18addb"/>
<rect x="945.25" y="392.63" width="41.93" height="12.87" fill="#1ca9df"/>
<rect x="945.25" y="404.90" width="41.93" height="10.41" fill="#08b5d0"/>
<rect x="945.25" y="414.72" width="41.93" height="10.41" fill="#01b8ca"/>
<rect x="945.25" y="424.53" width="41.93" height="17.78" fill="#3fca8e"/>
<rect x="945.25" y="441.71" width="41.93" height="27.59" fill="#64cd6f"/>
<rect x="945.25" y="468.70" width="41.93" height="17.78" fill="#8fcb4e"/>
<rect x="945.25" y="485.87" width="41.93" height="32.50" fill="#d1bf27"/>
<rect x="945.25" y="517.77" width="41.93" height="10.41" fill="#81cc59"/>
<rect x="945.25" y="527.58" width="41.93" height="15.32" fill="#4acb84"/>
<rect x="945.25" y="542.30" width="41.93" height="20.23" fill="#37c897"/>
<rect x="945.25" y="561.93" width="41.93" height="27.59" fill="#24c1ae"/>
<rect x="945.25" y="588.92" width="41.93" height="15.32" fill="#31c69f"/>
<rect x="945.25" y="603.65" width="41.93" height="20.23" fill="#24c1ae"/>
<rect x="945.25" y="623.27" width="41.93" height="22.68" fill="#01b8ca"/>
<rect x="945.25" y="645.36" width="41.93" height="22.68" fill="#18addb"/>
<rect x="945.25" y="667.44" width="41.93" height="7.96" fill="#01b8ca"/>
<rect x="945.25" y="674.80" width="41.93" height="12.87" fill="#24c1ae"/>
<rect x="945.25" y="687.07" width="41.93" height="17.78" fill="#4acb84"/>
<rect x="945.25" y="704.25" width="41.93" height="17.78" fill="#57cc7a"/>
<rect x="945.25" y="721.42" width="41.93" height="10.41" fill="#37c897"/>
<rect x="945.25" y="731.24" width="41.93" height="7.96" fill="#81cc59"/>
<rect x="945.25" y="738.60" width="41.93" height="34.95" fill="#4acb84"/>
<rect x="945.25" y="772.95" width="41.93" height="37.40" fill="#37c897"/>
<rect x="945.25" y="809.75" width="41.93" height="27.59" fill="#19bfb6"/>
<rect x="945.25" y="836.74" width="41.93" height="27.59" fill="#b9c431"/>
<rect x="945.25" y="863.73" width="41.93" height="12.87" fill="#57cc7a"/>
<rect x="945.25" y="876.00" width="41.93" height="12.87" fill="#37c897"/>
<rect x="945.25" y="888.27" width="41.93" height="15.32" fill="#24c1ae"/>
<rect x="945.25" y="902.99" width="41.93" height="15.32" fill="#02bac3"/>
<rect x="945.25" y="917.71" width="41.93" height="15.32" fill="#24c1ae"/>
<rect x="945.25" y="932.43" width="41.93" height="22.68" fill="#57cc7a"/>
<rect x="945.25" y="954.52" width="41.93" height="10.41" fill="#f0ba36"/>
<rect x="945.25" y="964.33" width="41.93" height="12.87" fill="#f7dc2a"/>
<rect x="986.58" y="34.40" width="41.93" height="22.68" fill="#2797eb"/>
<rect x="986.58" y="56.48" width="41.93" height="32.50" fill="#259be8"/>
<rect x="986.58" y="88.38" width="41.93" height="64.39" fill="#23a0e5"/>
<rect x="986.58" y="152.18" width="41.93" height="20.23" fill="#259be8"/>
<rect x="986.58" y="171.80" width="41.93" height="20.23" fill="#2b91ef"/>
<rect x="986.58" y="191.43" width="41.93" height="32.50" fill="#2d8cf3"/>
<rect x="986.58" y="223.33" width="41.93" height="10.41" fill="#259be8"/>
<rect x="986.58" y="233.15" width="41.93" height="22.68" fill="#01b8ca"/>
<rect x="986.58" y="255.23" width="41.93" height="30.04" fill="#1ca9df"/>
<rect x="986.58" y="284.67" width="41.93" height="17.78" fill="#01b8ca"/>
<rect x="986.58" y="301.85" width="41.93" height="12.87" fill="#19bfb6"/>
<rect x="986.58" y="314.12" width="41.93" height="22.68" fill="#01b8ca"/>
<rect x="986.58" y="336.20" width="41.93" height="15.32" fill="#31c69f"/>
<rect x="986.58" y="350.92" width="41.93" height="22.68" fill="#01b8ca"/>
<rect x="986.58" y="373.00" width="41.93" height="27.59" fill="#20a5e3"/>
<rect x="986.58" y="399.99" width="41.93" height="15.32" fill="#08b5d0"/>
<rect x="986.58" y="414.72" width="41.93" height="10.41" fill="#01b8ca"/>
<rect x="986.58" y="424.53" width="41.93" height="17.78" fill="#3fca8e"/>
<rect x="986.58" y="441.71" width="41.93" height="27.59" fill="#81cc59"/>
<rect x="986.58" y="468.70" width="41.93" height="30.04" fill="#abc739"/>
<rect x="986.58" y="498.14" width="41.93" height="25.14" fill="#81cc59"/>
<rect x="986.58" y="522.68" width="41.93" height="20.23" fill="#4acb84"/>
<rect x="986.58" y="542.30" width="41.93" height="17.78" fill="#24c1ae"/>
<rect x="986.58" y="559.48" width="41.93" height="30.04" fill="#19bfb6"/>
<rect x="986.58" y="588.92" width="41.93" height="15.32" fill="#31c69f"/>
<rect x="986.58" y="603.65" width="41.93" height="15.32" fill="#57cc7a"/>
<rect x="986.58" y="618.37" width="41.93" height="20.23" fill="#37c897"/>
<rect x="986.58" y="638.00" width="41.93" height="34.95" fill="#01b8ca"/>
<rect x="986.58" y="672.35" width="41.93" height="27.59" fill="#37c897"/>
<rect x="986.58" y="699.34" width="41.93" height="22.68" fill="#57cc7a"/>
<rect x="986.58" y="721.42" width="41.93" height="7.96" fill="#81cc59"/>
<rect x="986.58" y="728.78" width="41.93" height="17.78" fill="#57cc7a"/>
<rect x="986.58" y="745.96" width="41.93" height="27.59" fill="#2cc4a7"/>
<rect x="986.58" y="772.95" width="41.93" height="10.41" fill="#3fca8e"/>
<rect x="986.58" y="782.76" width="41.93" height="12.87" fill="#24c1ae"/>
<rect x="986.58" y="795.03" width="41.93" height="15.32" fill="#31c69f"/>
<rect x="986.58" y="809.75" width="41.93" height="17.78" fill="#57cc7a"/>
<rect x="986.58" y="826.93" width="41.93" height="12.87" fill="#81cc59"/>
<rect x="986.58" y="839.20" width="41.93" height="25.14" fill="#81cc59"/>
<rect x="986.58" y="863.73" width="41.93" height="17.78" fill="#4acb84"/>
<rect x="986.58" y="880.91" width="41.93" height="10.41" fill="#24c1ae"/>
<rect x="986.58" y="890.72" width="41.93" height="39.86" fill="#02bac3"/>
<rect x="986.58" y="929.98" width="41.93" height="15.32" fill="#37c897"/>
<rect x="986.58" y="944.70" width="41.93" height="12.87" fill="#81cc59"/>
<rect x="986.58" y="956.97" width="41.93" height="10.41" fill="#d1bf27"/>
<rect x="986.58" y="966.79" width="41.93" height="10.41" fill="#fccf30"/>
<rect x="1027.92" y="34.40" width="41.93" height="10.41" fill="#2e87f7"/>
<rect x="1027.92" y="44.21" width="41.93" height="44.77" fill="#2b91ef"/>
<rect x="1027.92" y="88.38" width="41.93" height="39.86" fill="#2f81fa"/>
<rect x="1027.92" y="127.64" width="41.93" height="25.14" fill="#2d8cf3"/>
<rect x="1027.92" y="152.18" width="41.93" height="30.04" fill="#259be8"/>
<rect x="1027.92" y="181.62" width="41.93" height="15.32" fill="#08b5d0"/>
<rect x="1027.92" y="196.34" width="41.93" height="42.31" fill="#18addb"/>
<rect x="1027.92" y="238.05" width="41.93" height="30.04" fill="#01b8ca"/>
<rect x="1027.92" y="267.50" width="41.93" height="20.23" fill="#19bfb6"/>
<rect x="1027.92" y="287.13" width="41.93" height="15.32" fill="#37c897"/>
<rect x="1027.92" y="301.85" width="41.93" height="10.41" fill="#4acb84"/>
<rect x="1027.92" y="311.66" width="41.93" height="20.23" fill="#31c69f"/>
<rect x="1027.92" y="331.29" width="41.93" height="15.32" fill="#4acb84"/>
<rect x="1027.92" y="346.01" width="41.93" height="12.87" fill="#37c897"/>
<rect x="1027.92" y="358.28" width="41.93" height="17.78" fill="#01b8ca"/>
<rect x="1027.92" y="375.46" width="41.93" height="34.95" fill="#18addb"/>
<rect x="1027.92" y="409.81" width="41.93" height="5.51" fill="#0bbdbd"/>
<rect x="1027.92" y="414.72" width="41.93" height="10.41" fill="#24c1ae"/>
<rect x="1027.92" y="424.53" width="41.93" height="20.23" fill="#81cc59"/>
<rect x="1027.92" y="444.16" width="41.93" height="30.04" fill="#dcbd29"/>
<rect x="1027.92" y="473.60" width="41.93" height="17.78" fill="#fec338"/>
<rect x="1027.92" y="490.78" width="41.93" height="15.32" fill="#febe3c"/>
<rect x="1027.92" y="505.50" width="41.93" height="17.78" fill="#dcbd29"/>
<rect x="1027.92" y="522.68" width="41.93" height="27.59" fill="#8fcb4e"/>
<rect x="1027.92" y="549.67" width="41.93" height="10.41" fill="#64cd6f"/>
<rect x="1027.92" y="559.48" width="41.93" height="32.50" fill="#3fca8e"/>
<rect x="1027.92" y="591.38" width="41.93" height="12.87" fill="#57cc7a"/>
<rect x="1027.92" y="603.65" width="41.93" height="15.32" fill="#72cd64"/>
<rect x="1027.92" y="618.37" width="41.93" height="12.87" fill="#abc739"/>
<rect x="1027.92" y="630.64" width="41.93" height="34.95" fill="#4acb84"/>
<rect x="1027.92" y="664.99" width="41.93" height="10.41" fill="#64cd6f"/>
<rect x="1027.92" y="674.80" width="41.93" height="30.04" fill="#b9c431"/>
<rect x="1027.92" y="704.25" width="41.93" height="17.78" fill="#8fcb4e"/>
<rect x="1027.92" y="721.42" width="41.93" height="10.41" fill="#64cd6f"/>
<rect x="1027.92" y="731.24" width="41.93" height="10.41" fill="#81cc59"/>
<rect x="1027.92" y="741.05" width="41.93" height="32.50" fill="#4acb84"/>
<rect x="1027.92" y="772.95" width="41.93" height="22.68" fill="#4acb84"/>
<rect x="1027.92" y="795.03" width="41.93" height="15.32" fill="#64cd6f"/>
<rect x="1027.92" y="809.75" width="41.93" height="15.32" fill="#81cc59"/>
<rect x="1027.92" y="824.47" width="41.93" height="20.23" fill="#c5c22a"/>
<rect x="1027.92" y="844.10" width="41.93" height="17.78" fill="#b9c431"/>
<rect x="1027.92" y="861.28" width="41.93" height="17.78" fill="#64cd6f"/>
<rect x="1027.92" y="878.45" width="41.93" height="17.78" fill="#37c897"/>
<rect x="1027.92" y="895.63" width="41.93" height="27.59" fill="#24c1ae"/>
<rect x="1027.92" y="922.62" width="41.93" height="17.78" fill="#37c897"/>
<rect x="1027.92" y="939.80" width="41.93" height="12.87" fill="#64cd6f"/>
<rect x="1027.92" y="952.06" width="41.93" height="17.78" fill="#d1bf27"/>
<rect x="1027.92" y="969.24" width="41.93" height="7.96" fill="#f8ba3d"/>
<rect x="1069.25" y="34.40" width="41.93" height="27.59" fill="#2d8cf3"/>
<rect x="1069.25" y="61.39" width="41.93" height="27.59" fill="#327cfc"/>
<rect x="1069.25" y="88.38" width="41.93" height="49.67" fill="#2e87f7"/>
<rect x="1069.25" y="137.45" width="41.93" height="25.14" fill="#2797eb"/>
<rect x="1069.25" y="161.99" width="41.93" height="17.78" fill="#327cfc"/>
<rect x="1069.25" y="179.17" width="41.93" height="17.78" fill="#259be8"/>
<rect x="1069.25" y="196.34" width="41.93" height="10.41" fill="#08b5d0"/>
<rect x="1069.25" y="206.16" width="41.93" height="7.96" fill="#0bbdbd"/>
<rect x="1069.25" y="213.52" width="41.93" height="10.41" fill="#19bfb6"/>
<rect x="1069.25" y="223.33" width="41.93" height="10.41" fill="#0bbdbd"/>
<rect x="1069.25" y="233.15" width="41.93" height="12.87" fill="#01b8ca"/>
<rect x="1069.25" y="245.41" width="41.93" height="42.31" fill="#18addb"/>
<rect x="1069.25" y="287.13" width="41.93" height="20.23" fill="#24c1ae"/>
<rect x="1069.25" y="306.75" width="41.93" height="7.96" fill="#57cc7a"/>
<rect x="1069.25" y="314.12" width="41.93" height="27.59" fill="#3fca8e"/>
<rect x="1069.25" y="341.11" width="41.93" height="5.51" fill="#57cc7a"/>
<rect x="1069.25" y="346.01" width="41.93" height="12.87" fill="#19bfb6"/>
<rect x="1069.25" y="358.28" width="41.93" height="34.95" fill="#1ca9df"/>
<rect x="1069.25" y="392.63" width="41.93" height="10.41" fill="#18addb"/>
<rect x="1069.25" y="402.45" width="41.93" height="12.87" fill="#08b5d0"/>
<rect x="1069.25" y="414.72" width="41.93" height="10.41" fill="#24c1ae"/>
<rect x="1069.25" y="424.53" width="41.93" height="7.96" fill="#37c897"/>
<rect x="1069.25" y="431.89" width="41.93" height="15.32" fill="#81cc59"/>
<rect x="1069.25" y="446.61" width="41.93" height="7.96" fill="#f8ba3d"/>
<rect x="1069.25" y="453.97" width="41.93" height="20.23" fill="#e6bb2d"/>
<rect x="1069.25" y="473.60" width="41.93" height="17.78" fill="#d1bf27"/>
<rect x="1069.25" y="490.78" width="41.93" height="32.50" fill="#abc739"/>
<rect x="1069.25" y="522.68" width="41.93" height="27.59" fill="#4acb84"/>
<rect x="1069.25" y="549.67" width="41.93" height="12.87" fill="#81cc59"/>
<rect x="1069.25" y="561.93" width="41.93" height="30.04" fill="#b9c431"/>
<rect x="1069.25" y="591.38" width="41.93" height="12.87" fill="#dcbd29"/>
<rect x="1069.25" y="603.65" width="41.93" height="5.51" fill="#d1bf27"/>
<rect x="1069.25" y="608.55" width="41.93" height="30.04" fill="#b9c431"/>
<rect x="1069.25" y="638.00" width="41.93" height="3.05" fill="#8fcb4e"/>
<rect x="1069.25" y="640.45" width="41.93" height="34.95" fill="#abc739"/>
<rect x="1069.25" y="674.80" width="41.93" height="7.96" fill="#f8ba3d"/>
<rect x="1069.25" y="682.16" width="41.93" height="20.23" fill="#dcbd29"/>
<rect x="1069.25" y="701.79" width="41.93" height="20.23" fill="#f0ba36"/>
<rect x="1069.25" y="721.42" width="41.93" height="12.87" fill="#81cc59"/>
<rect x="1069.25" y="733.69" width="41.93" height="25.14" fill="#57cc7a"/>
<rect x="1069.25" y="758.23" width="41.93" height="37.40" fill="#0bbdbd"/>
<rect x="1069.25" y="795.03" width="41.93" height="10.41" fill="#24c1ae"/>
<rect x="1069.25" y="804.84" width="41.93" height="22.68" fill="#57cc7a"/>
<rect x="1069.25" y="826.93" width="41.93" height="27.59" fill="#8fcb4e"/>
<rect x="1069.25" y="853.92" width="41.93" height="22.68" fill="#57cc7a"/>
<rect x="1069.25" y="876.00" width="41.93" height="10.41" fill="#31c69f"/>
<rect x="1069.25" y="885.82" width="41.93" height="47.22" fill="#02bac3"/>
<rect x="1069.25" y="932.43" width="41.93" height="12.87" fill="#24c1ae"/>
<rect x="1069.25" y="944.70" width="41.93" height="15.32" fill="#57cc7a"/>
<rect x="1069.25" y="959.42" width="41.93" height="7.96" fill="#b9c431"/>
<rect x="1069.25" y="966.79" width="41.93" height="10.41" fill="#febe3c"/>
<rect x="1110.58" y="34.40" width="41.93" height="25.14" fill="#2e87f7"/>
<rect x="1110.58" y="58.94" width="41.93" height="30.04" fill="#3875fe"/>
<rect x="1110.58" y="88.38" width="41.93" height="10.41" fill="#2f81fa"/>
<rect x="1110.58" y="98.19" width="41.93" height="20.23" fill="#2797eb"/>
<rect x="1110.58" y="117.82" width="41.93" height="37.40" fill="#1ca9df"/>
<rect x="1110.58" y="154.63" width="41.93" height="25.14" fill="#259be8"/>
<rect x="1110.58" y="179.17" width="41.93" height="17.78" fill="#20a5e3"/>
<rect x="1110.58" y="196.34" width="41.93" height="12.87" fill="#31c69f"/>
<rect x="1110.58" y="208.61" width="41.93" height="15.32" fill="#01b8ca"/>
<rect x="1110.58" y="223.33" width="41.93" height="15.32" fill="#18addb"/>
<rect x="1110.58" y="238.05" width="41.93" height="42.31" fill="#01b8ca"/>
<rect x="1110.58" y="279.76" width="41.93" height="17.78" fill="#0bbdbd"/>
<rect x="1110.58" y="296.94" width="41.93" height="54.58" fill="#24c1ae"/>
<rect x="1110.58" y="350.92" width="41.93" height="12.87" fill="#01b8ca"/>
<rect x="1110.58" y="363.19" width="41.93" height="17.78" fill="#1ca9df"/>
<rect x="1110.58" y="380.36" width="41.93" height="20.23" fill="#08b5d0"/>
<rect x="1110.58" y="399.99" width="41.93" height="15.32" fill="#01b8ca"/>
<rect x="1110.58" y="414.72" width="41.93" height="10.41" fill="#24c1ae"/>
<rect x="1110.58" y="424.53" width="41.93" height="30.04" fill="#37c897"/>
<rect x="1110.58" y="453.97" width="41.93" height="54.58" fill="#3fca8e"/>
<rect x="1110.58" y="507.95" width="41.93" height="17.78" fill="#4acb84"/>
<rect x="1110.58" y="525.13" width="41.93" height="42.31" fill="#57cc7a"/>
<rect x="1110.58" y="566.84" width="41.93" height="37.40" fill="#d1bf27"/>
<rect x="1110.58" y="603.65" width="41.93" height="27.59" fill="#c5c22a"/>
<rect x="1110.58" y="630.64" width="41.93" height="10.41" fill="#9dc943"/>
<rect x="1110.58" y="640.45" width="41.93" height="27.59" fill="#b9c431"/>
<rect x="1110.58" y="667.44" width="41.93" height="7.96" fill="#febe3c"/>
<rect x="1110.58" y="674.80" width="41.93" height="20.23" fill="#f5e924"/>
<rect x="1110.58" y="694.43" width="41.93" height="10.41" fill="#fccf30"/>
<rect x="1110.58" y="704.25" width="41.93" height="17.78" fill="#dcbd29"/>
<rect x="1110.58" y="721.42" width="41.93" height="17.78" fill="#64cd6f"/>
<rect x="1110.58" y="738.60" width="41.93" height="27.59" fill="#37c897"/>
<rect x="1110.58" y="765.59" width="41.93" height="30.04" fill="#19bfb6"/>
<rect x="1110.58" y="795.03" width="41.93" height="20.23" fill="#24c1ae"/>
<rect x="1110.58" y="814.66" width="41.93" height="47.22" fill="#4acb84"/>
<rect x="1110.58" y="861.28" width="41.93" height="27.59" fill="#2cc4a7"/>
<rect x="1110.58" y="888.27" width="41.93" height="25.14" fill="#02bac3"/>
<rect x="1110.58" y="912.81" width="41.93" height="20.23" fill="#12b1d6"/>
<rect x="1110.58" y="932.43" width="41.93" height="12.87" fill="#19bfb6"/>
<rect x="1110.58" y="944.70" width="41.93" height="15.32" fill="#37c897"/>
<rect x="1110.58" y="959.42" width="41.93" height="7.96" fill="#81cc59"/>
<rect x="1110.58" y="966.79" width="41.93" height="10.41" fill="#dcbd29"/>
<rect x="1151.91" y="34.40" width="41.93" height="10.41" fill="#18addb"/>
<rect x="1151.91" y="44.21" width="41.93" height="39.86" fill="#259be8"/>
<rect x="1151.91" y="83.47" width="41.93" height="34.95" fill="#1ca9df"/>
<rect x="1151.91" y="117.82" width="41.93" height="15.32" fill="#01b8ca"/>
<rect x="1151.91" y="132.55" width="41.93" height="15.32" fill="#19bfb6"/>
<rect x="1151.91" y="147.27" width="41.93" height="12.87" fill="#08b5d0"/>
<rect x="1151.91" y="159.54" width="41.93" height="20.23" fill="#20a5e3"/>
<rect x="1151.91" y="179.17" width="41.93" height="7.96" fill="#01b8ca"/>
<rect x="1151.91" y="186.53" width="41.93" height="22.68" fill="#24c1ae"/>
<rect x="1151.91" y="208.61" width="41.93" height="15.32" fill="#02bac3"/>
<rect x="1151.91" y="223.33" width="41.93" height="17.78" fill="#01b8ca"/>
<rect x="1151.91" y="240.51" width="41.93" height="17.78" fill="#0bbdbd"/>
<rect x="1151.91" y="257.68" width="41.93" height="39.86" fill="#24c1ae"/>
<rect x="1151.91" y="296.94" width="41.93" height="12.87" fill="#57cc7a"/>
<rect x="1151.91" y="309.21" width="41.93" height="37.40" fill="#3fca8e"/>
<rect x="1151.91" y="346.01" width="41.93" height="10.41" fill="#19bfb6"/>
<rect x="1151.91" y="355.83" width="41.93" height="10.41" fill="#0bbdbd"/>
<rect x="1151.91" y="365.64" width="41.93" height="25.14" fill="#1ca9df"/>
<rect x="1151.91" y="390.18" width="41.93" height="10.41" fill="#259be8"/>
<rect x="1151.91" y="399.99" width="41.93" height="15.32" fill="#18addb"/>
<rect x="1151.91" y="414.72" width="41.93" height="5.51" fill="#01b8ca"/>
<rect x="1151.91" y="419.62" width="41.93" height="34.95" fill="#37c897"/>
<rect x="1151.91" y="453.97" width="41.93" height="54.58" fill="#31c69f"/>
<rect x="1151.91" y="507.95" width="41.93" height="10.41" fill="#24c1ae"/>
<rect x="1151.91" y="517.77" width="41.93" height="10.41" fill="#02bac3"/>
<rect x="1151.91" y="527.58" width="41.93" height="25.14" fill="#19bfb6"/>
<rect x="1151.91" y="552.12" width="41.93" height="15.32" fill="#81cc59"/>
<rect x="1151.91" y="566.84" width="41.93" height="25.14" fill="#d1bf27"/>
<rect x="1151.91" y="591.38" width="41.93" height="12.87" fill="#c5c22a"/>
<rect x="1151.91" y="603.65" width="41.93" height="10.41" fill="#abc739"/>
<rect x="1151.91" y="613.46" width="41.93" height="25.14" fill="#81cc59"/>
<rect x="1151.91" y="638.00" width="41.93" height="27.59" fill="#c5c22a"/>
<rect x="1151.91" y="664.99" width="41.93" height="27.59" fill="#dcbd29"/>
<rect x="1151.91" y="691.98" width="41.93" height="10.41" fill="#febe3c"/>
<rect x="1151.91" y="701.79" width="41.93" height="20.23" fill="#72cd64"/>
<rect x="1151.91" y="721.42" width="41.93" height="25.14" fill="#31c69f"/>
<rect x="1151.91" y="745.96" width="41.93" height="10.41" fill="#19bfb6"/>
<rect x="1151.91" y="755.77" width="41.93" height="39.86" fill="#24c1ae"/>
<rect x="1151.91" y="795.03" width="41.93" height="22.68" fill="#3fca8e"/>
<rect x="1151.91" y="817.11" width="41.93" height="52.13" fill="#64cd6f"/>
<rect x="1151.91" y="868.64" width="41.93" height="20.23" fill="#37c897"/>
<rect x="1151.91" y="888.27" width="41.93" height="20.23" fill="#02bac3"/>
<rect x="1151.91" y="907.90" width="41.93" height="34.95" fill="#18addb"/>
<rect x="1151.91" y="942.25" width="41.93" height="10.41" fill="#0bbdbd"/>
<rect x="1151.91" y="952.06" width="41.93" height="10.41" fill="#37c897"/>
<rect x="1151.91" y="961.88" width="41.93" height="10.41" fill="#81cc59"/>
<rect x="1151.91" y="971.69" width="41.93" height="5.51" fill="#c5c22a"/>
<rect x="1193.24" y="34.40" width="41.93" height="22.68" fill="#2797eb"/>
<rect x="1193.24" y="56.48" width="41.93" height="32.50" fill="#2e87f7"/>
<rect x="1193.24" y="88.38" width="41.93" height="20.23" fill="#2797eb"/>
<rect x="1193.24" y="108.01" width="41.93" height="20.23" fill="#23a0e5"/>
<rect x="1193.24" y="127.64" width="41.93" height="15.32" fill="#08b5d0"/>
<rect x="1193.24" y="142.36" width="41.93" height="17.78" fill="#0bbdbd"/>
<rect x="1193.24" y="159.54" width="41.93" height="22.68" fill="#18addb"/>
<rect x="1193.24" y="181.62" width="41.93" height="15.32" fill="#0bbdbd"/>
<rect x="1193.24" y="196.34" width="41.93" height="27.59" fill="#08b5d0"/>
<rect x="1193.24" y="223.33" width="41.93" height="15.32" fill="#01b8ca"/>
<rect x="1193.24" y="238.05" width="41.93" height="20.23" fill="#0bbdbd"/>
<rect x="1193.24" y="257.68" width="41.93" height="22.68" fill="#24c1ae"/>
<rect x="1193.24" y="279.76" width="41.93" height="69.30" fill="#3fca8e"/>
<rect x="1193.24" y="348.47" width="41.93" height="17.78" fill="#24c1ae"/>
<rect x="1193.24" y="365.64" width="41.93" height="27.59" fill="#18addb"/>
<rect x="1193.24" y="392.63" width="41.93" height="22.68" fill="#08b5d0"/>
<rect x="1193.24" y="414.72" width="41.93" height="5.51" fill="#01b8ca"/>
<rect x="1193.24" y="419.62" width="41.93" height="27.59" fill="#24c1ae"/>
<rect x="1193.24" y="446.61" width="41.93" height="17.78" fill="#19bfb6"/>
<rect x="1193.24" y="463.79" width="41.93" height="42.31" fill="#0bbdbd"/>
<rect x="1193.24" y="505.50" width="41.93" height="27.59" fill="#08b5d0"/>
<rect x="1193.24" y="532.49" width="41.93" height="22.68" fill="#18addb"/>
<rect x="1193.24" y="554.57" width="41.93" height="12.87" fill="#19bfb6"/>
<rect x="1193.24" y="566.84" width="41.93" height="10.41" fill="#4acb84"/>
<rect x="1193.24" y="576.66" width="41.93" height="15.32" fill="#81cc59"/>
<rect x="1193.24" y="591.38" width="41.93" height="39.86" fill="#8fcb4e"/>
<rect x="1193.24" y="630.64" width="41.93" height="37.40" fill="#57cc7a"/>
<rect x="1193.24" y="667.44" width="41.93" height="10.41" fill="#81cc59"/>
<rect x="1193.24" y="677.26" width="41.93" height="10.41" fill="#c5c22a"/>
<rect x="1193.24" y="687.07" width="41.93" height="15.32" fill="#f0ba36"/>
<rect x="1193.24" y="701.79" width="41.93" height="7.96" fill="#abc739"/>
<rect x="1193.24" y="709.15" width="41.93" height="12.87" fill="#64cd6f"/>
<rect x="1193.24" y="721.42" width="41.93" height="25.14" fill="#2cc4a7"/>
<rect x="1193.24" y="745.96" width="41.93" height="10.41" fill="#19bfb6"/>
<rect x="1193.24" y="755.77" width="41.93" height="17.78" fill="#2cc4a7"/>
<rect x="1193.24" y="772.95" width="41.93" height="22.68" fill="#3fca8e"/>
<rect x="1193.24" y="795.03" width="41.93" height="15.32" fill="#57cc7a"/>
<rect x="1193.24" y="809.75" width="41.93" height="49.67" fill="#57cc7a"/>
<rect x="1193.24" y="858.82" width="41.93" height="12.87" fill="#3fca8e"/>
<rect x="1193.24" y="871.09" width="41.93" height="17.78" fill="#24c1ae"/>
<rect x="1193.24" y="888.27" width="41.93" height="20.23" fill="#02bac3"/>
<rect x="1193.24" y="907.90" width="41.93" height="17.78" fill="#12b1d6"/>
<rect x="1193.24" y="925.07" width="41.93" height="17.78" fill="#01b8ca"/>
<rect x="1193.24" y="942.25" width="41.93" height="15.32" fill="#24c1ae"/>
<rect x="1193.24" y="956.97" width="41.93" height="10.41" fill="#57cc7a"/>
<rect x="1193.24" y="966.79" width="41.93" height="10.41" fill="#c5c22a"/>
<rect x="1234.57" y="34.40" width="41.93" height="10.41" fill="#327cfc"/>
<rect x="1234.57" y="44.21" width="41.93" height="17.78" fill="#2e87f7"/>
<rect x="1234.57" y="61.39" width="41.93" height="17.78" fill="#3875fe"/>
<rect x="1234.57" y="78.57" width="41.93" height="49.67" fill="#2f81fa"/>
<rect x="1234.57" y="127.64" width="41.93" height="15.32" fill="#2797eb"/>
<rect x="1234.57" y="142.36" width="41.93" height="17.78" fill="#23a0e5"/>
<rect x="1234.57" y="159.54" width="41.93" height="22.68" fill="#2797eb"/>
<rect x="1234.57" y="181.62" width="41.93" height="25.14" fill="#08b5d0"/>
<rect x="1234.57" y="206.16" width="41.93" height="17.78" fill="#1ca9df"/>
<rect x="1234.57" y="223.33" width="41.93" height="17.78" fill="#20a5e3"/>
<rect x="1234.57" y="240.51" width="41.93" height="34.95" fill="#01b8ca"/>
<rect x="1234.57" y="274.86" width="41.93" height="22.68" fill="#24c1ae"/>
<rect x="1234.57" y="296.94" width="41.93" height="34.95" fill="#37c897"/>
<rect x="1234.57" y="331.29" width="41.93" height="20.23" fill="#4acb84"/>
<rect x="1234.57" y="350.92" width="41.93" height="17.78" fill="#2cc4a7"/>
<rect x="1234.57" y="368.10" width="41.93" height="17.78" fill="#19bfb6"/>
<rect x="1234.57" y="385.27" width="41.93" height="30.04" fill="#01b8ca"/>
<rect x="1234.57" y="414.72" width="41.93" height="10.41" fill="#0bbdbd"/>
<rect x="1234.57" y="424.53" width="41.93" height="34.95" fill="#08b5d0"/>
<rect x="1234.57" y="458.88" width="41.93" height="49.67" fill="#20a5e3"/>
<rect x="1234.57" y="507.95" width="41.93" height="34.95" fill="#2797eb"/>
<rect x="1234.57" y="542.30" width="41.93" height="17.78" fill="#1ca9df"/>
<rect x="1234.57" y="559.48" width="41.93" height="7.96" fill="#0bbdbd"/>
<rect x="1234.57" y="566.84" width="41.93" height="10.41" fill="#37c897"/>
<rect x="1234.57" y="576.66" width="41.93" height="15.32" fill="#57cc7a"/>
<rect x="1234.57" y="591.38" width="41.93" height="12.87" fill="#81cc59"/>
<rect x="1234.57" y="603.65" width="41.93" height="10.41" fill="#81cc59"/>
<rect x="1234.57" y="613.46" width="41.93" height="17.78" fill="#57cc7a"/>
<rect x="1234.57" y="630.64" width="41.93" height="37.40" fill="#31c69f"/>
<rect x="1234.57" y="667.44" width="41.93" height="10.41" fill="#64cd6f"/>
<rect x="1234.57" y="677.26" width="41.93" height="15.32" fill="#abc739"/>
<rect x="1234.57" y="691.98" width="41.93" height="12.87" fill="#d1bf27"/>
<rect x="1234.57" y="704.25" width="41.93" height="17.78" fill="#64cd6f"/>
<rect x="1234.57" y="721.42" width="41.93" height="10.41" fill="#31c69f"/>
<rect x="1234.57" y="731.24" width="41.93" height="15.32" fill="#19bfb6"/>
<rect x="1234.57" y="745.96" width="41.93" height="10.41" fill="#02bac3"/>
<rect x="1234.57" y="755.77" width="41.93" height="17.78" fill="#19bfb6"/>
<rect x="1234.57" y="772.95" width="41.93" height="22.68" fill="#2cc4a7"/>
<rect x="1234.57" y="795.03" width="41.93" height="15.32" fill="#37c897"/>
<rect x="1234.57" y="809.75" width="41.93" height="25.14" fill="#2cc4a7"/>
<rect x="1234.57" y="834.29" width="41.93" height="27.59" fill="#3fca8e"/>
<rect x="1234.57" y="861.28" width="41.93" height="27.59" fill="#37c897"/>
<rect x="1234.57" y="888.27" width="41.93" height="17.78" fill="#19bfb6"/>
<rect x="1234.57" y="905.44" width="41.93" height="37.40" fill="#01b8ca"/>
<rect x="1234.57" y="942.25" width="41.93" height="15.32" fill="#19bfb6"/>
<rect x="1234.57" y="956.97" width="41.93" height="10.41" fill="#57cc7a"/>
<rect x="1234.57" y="966.79" width="41.93" height="10.41" fill="#8fcb4e"/>
</g>
<g shape-rendering="crispEdges">
<rect x="1312.10" y="962.17" width="75.90" height="15.22" fill="#3e26a8"/>
<rect x="1312.10" y="947.45" width="75.90" height="15.22" fill="#402ab4"/>
<rect x="1312.10" y="932.73" width="75.90" height="15.22" fill="#422ec0"/>
<rect x="1312.10" y="918.00" width="75.90" height="15.22" fill="#4332cb"/>
<rect x="1312.10" y="903.27" width="75.90" height="15.22" fill="#4537d5"/>
<rect x="1312.10" y="888.55" width="75.90" height="15.22" fill="#463cde"/>
<rect x="1312.10" y="873.82" width="75.90" height="15.22" fill="#4741e5"/>
<rect x="1312.10" y="859.10" width="75.90" height="15.22" fill="#4747eb"/>
<rect x="1312.10" y="844.38" width="75.90" height="15.22" fill="#484df0"/>
<rect x="1312.10" y="829.65" width="75.90" height="15.22" fill="#4852f4"/>
<rect x="1312.10" y="814.92" width="75.90" height="15.22" fill="#4758f8"/>
<rect x="1312.10" y="800.20" width="75.90" height="15.22" fill="#465efb"/>
<rect x="1312.10" y="785.48" width="75.90" height="15.22" fill="#4563fd"/>
<rect x="1312.10" y="770.75" width="75.90" height="15.22" fill="#4269fe"/>
<rect x="1312.10" y="756.02" width="75.90" height="15.22" fill="#3e6fff"/>
<rect x="1312.10" y="741.30" width="75.90" height="15.22" fill="#3875fe"/>
<rect x="1312.10" y="726.58" width="75.90" height="15.22" fill="#327cfc"/>
<rect x="1312.10" y="711.85" width="75.90" height="15.22" fill="#2f81fa"/>
<rect x="1312.10" y="697.12" width="75.90" height="15.22" fill="#2e87f7"/>
<rect x="1312.10" y="682.40" width="75.90" height="15.22" fill="#2d8cf3"/>
<rect x="1312.10" y="667.67" width="75.90" height="15.22" fill="#2b91ef"/>
<rect x="1312.10" y="652.95" width="75.90" height="15.22" fill="#2797eb"/>
<rect x="1312.10" y="638.22" width="75.90" height="15.22" fill="#259be8"/>
<rect x="1312.10" y="623.50" width="75.90" height="15.22" fill="#23a0e5"/>
<rect x="1312.10" y="608.77" width="75.90" height="15.22" fill="#20a5e3"/>
<rect x="1312.10" y="594.05" width="75.90" height="15.22" fill="#1ca9df"/>
<rect x="1312.10" y="579.33" width="75.90" height="15.22" fill="#18addb"/>
<rect x="1312.10" y="564.60" width="75.90" height="15.22" fill="#12b1d6"/>
<rect x="1312.10" y="549.88" width="75.90" height="15.22" fill="#08b5d0"/>
<rect x="1312.10" y="535.15" width="75.90" height="15.22" fill="#01b8ca"/>
<rect x="1312.10" y="520.42" width="75.90" height="15.22" fill="#02bac3"/>
<rect x="1312.10" y="505.70" width="75.90" height="15.22" fill="#0bbdbd"/>
<rect x="1312.10" y="490.97" width="75.90" height="15.22" fill="#19bfb6"/>
<rect x="1312.10" y="476.25" width="75.90" height="15.22" fill="#24c1ae"/>
<rect x="1312.10" y="461.52" width="75.90" height="15.22" fill="#2cc4a7"/>
<rect x="1312.10" y="446.80" width="75.90" height="15.22" fill="#31c69f"/>
<rect x="1312.10" y="432.08" width="75.90" height="15.22" fill="#37c897"/>
<rect x="1312.10" y="417.35" width="75.90" height="15.22" fill="#3fca8e"/>
<rect x="1312.10" y="402.62" width="75.90" height="15.22" fill="#4acb84"/>
<rect x="1312.10" y="387.90" width="75.90" height="15.22" fill="#57cc7a"/>
<rect x="1312.10" y="373.17" width="75.90" height="15.22" fill="#64cd6f"/>
<rect x="1312.10" y="358.45" width="75.90" height="15.22" fill="#72cd64"/>
<rect x="1312.10" y="343.73" width="75.90" height="15.22" fill="#81cc59"/>
<rect x="1312.10" y="329.00" width="75.90" height="15.22" fill="#8fcb4e"/>
<rect x="1312.10" y="314.27" width="75.90" height="15.22" fill="#9dc943"/>
<rect x="1312.10" y="299.55" width="75.90" height="15.22" fill="#abc739"/>
<rect x="1312.10" y="284.83" width="75.90" height="15.22" fill="#b9c431"/>
<rect x="1312.10" y="270.10" width="75.90" height="15.22" fill="#c5c22a"/>
<rect x="1312.10" y="255.38" width="75.90" height="15.22" fill="#d1bf27"/>
<rect x="1312.10" y="240.65" width="75.90" height="15.22" fill="#dcbd29"/>
<rect x="1312.10" y="225.92" width="75.90" height="15.22" fill="#e6bb2d"/>
<rect x="1312.10" y="211.20" width="75.90" height="15.22" fill="#f0ba36"/>
<rect x="1312.10" y="196.48" width="75.90" height="15.22" fill="#f8ba3d"/>
<rect x="1312.10" y="181.75" width="75.90" height="15.22" fill="#febe3c"/>
<rect x="1312.10" y="167.02" width="75.90" height="15.22" fill="#fec338"/>
<rect x="1312.10" y="152.30" width="75.90" height="15.22" fill="#fec934"/>
<rect x="1312.10" y="137.58" width="75.90" height="15.22" fill="#fccf30"/>
<rect x="1312.10" y="122.85" width="75.90" height="15.22" fill="#fad62d"/>
<rect x="1312.10" y="108.12" width="75.90" height="15.22" fill="#f7dc2a"/>
<rect x="1312.10" y="93.40" width="75.90" height="15.22" fill="#f5e327"/>
<rect x="1312.10" y="78.67" width="75.90" height="15.22" fill="#f5e924"/>
<rect x="1312.10" y="63.95" width="75.90" height="15.22" fill="#f6ef20"/>
<rect x="1312.10" y="49.23" width="75.90" height="15.22" fill="#f7f51b"/>
<rect x="1312.10" y="34.50" width="75.90" height="15.22" fill="#f9fb15"/>
</g>
<g stroke="#262626" stroke-width="1.7" fill="none">
<rect x="201.30" y="34.40" width="1074.60" height="942.20"/>
<rect x="1312.10" y="34.50" width="75.90" height="942.40"/>
<line x1="201.30" y1="855.46" x2="212.80" y2="855.46"/>
<line x1="1275.90" y1="855.46" x2="1264.40" y2="855.46"/>
<line x1="201.30" y1="732.76" x2="212.80" y2="732.76"/>
<line x1="1275.90" y1="732.76" x2="1264.40" y2="732.76"/>
<line x1="201.30" y1="610.06" x2="212.80" y2="610.06"/>
<line x1="1275.90" y1="610.06" x2="1264.40" y2="610.06"/>
<line x1="201.30" y1="487.36" x2="212.80" y2="487.36"/>
<line x1="1275.90" y1="487.36" x2="1264.40" y2="487.36"/>
<line x1="201.30" y1="364.66" x2="212.80" y2="364.66"/>
<line x1="1275.90" y1="364.66" x2="1264.40" y2="364.66"/>
<line x1="201.30" y1="241.96" x2="212.80" y2="241.96"/>
<line x1="1275.90" y1="241.96" x2="1264.40" y2="241.96"/>
<line x1="201.30" y1="119.26" x2="212.80" y2="119.26"/>
<line x1="1275.90" y1="119.26" x2="1264.40" y2="119.26"/>
<line x1="325.50" y1="976.60" x2="325.50" y2="965.10"/>
<line x1="325.50" y1="34.40" x2="325.50" y2="45.90"/>
<line x1="532.10" y1="976.60" x2="532.10" y2="965.10"/>
<line x1="532.10" y1="34.40" x2="532.10" y2="45.90"/>
<line x1="738.70" y1="976.60" x2="738.70" y2="965.10"/>
<line x1="738.70" y1="34.40" x2="738.70" y2="45.90"/>
<line x1="945.30" y1="976.60" x2="945.30" y2="965.10"/>
<line x1="945.30" y1="34.40" x2="945.30" y2="45.90"/>
<line x1="1151.90" y1="976.60" x2="1151.90" y2="965.10"/>
<line x1="1151.90" y1="34.40" x2="1151.90" y2="45.90"/>
<line x1="1388.00" y1="949.10" x2="1378.00" y2="949.10"/>
<line x1="1388.00" y1="814.72" x2="1378.00" y2="814.72"/>
<line x1="1388.00" y1="680.34" x2="1378.00" y2="680.34"/>
<line x1="1388.00" y1="545.96" x2="1378.00" y2="545.96"/>
<line x1="1388.00" y1="411.58" x2="1378.00" y2="411.58"/>
<line x1="1388.00" y1="277.20" x2="1378.00" y2="277.20"/>
<line x1="1388.00" y1="142.82" x2="1378.00" y2="142.82"/>
</g>
<g font-size="42.5">
<text transform="translate(164.00,855.76) scale(0.940,1)" text-anchor="end">50</text>
<text transform="translate(164.00,733.06) scale(0.940,1)" text-anchor="end">100</text>
<text transform="translate(164.00,610.36) scale(0.940,1)" text-anchor="end">150</text>
<text transform="translate(164.00,487.66) scale(0.940,1)" text-anchor="end">200</text>
<text transform="translate(164.00,364.96) scale(0.940,1)" text-anchor="end">250</text>
<text transform="translate(164.00,242.26) scale(0.940,1)" text-anchor="end">300</text>
<text transform="translate(164.00,119.56) scale(0.940,1)" text-anchor="end">350</text>
<text transform="translate(316.20,1025.60) scale(0.940,1)" text-anchor="middle">-20</text>
<text transform="translate(523.20,1025.60) scale(0.940,1)" text-anchor="middle">-10</text>
<text transform="translate(733.70,1025.60) scale(0.940,1)" text-anchor="middle">0</text>
<text transform="translate(938.20,1025.60) scale(0.940,1)" text-anchor="middle">10</text>
<text transform="translate(1144.40,1025.60) scale(0.940,1)" text-anchor="middle">20</text>
</g>
<g font-size="38.5">
<text transform="translate(1405.00,947.90) scale(0.920,1)" text-anchor="start">4</text>
<text transform="translate(1405.00,813.52) scale(0.920,1)" text-anchor="start">6</text>
<text transform="translate(1405.00,679.14) scale(0.920,1)" text-anchor="start">8</text>
<text transform="translate(1405.00,544.76) scale(0.920,1)" text-anchor="start">10</text>
<text transform="translate(1405.00,410.38) scale(0.920,1)" text-anchor="start">12</text>
<text transform="translate(1405.00,276.00) scale(0.920,1)" text-anchor="start">14</text>
<text transform="translate(1405.00,141.62) scale(0.920,1)" text-anchor="start">16</text>
</g>
<text x="317" y="1093.5" font-size="44" textLength="631" lengthAdjust="spacingAndGlyphs">Sub-band centroid frequency (MHz)</text>
<text transform="translate(59.6,678.0) rotate(-90)" font-size="44.5" textLength="256.8" lengthAdjust="spacingAndGlyphs">Sub-CPI index</text>
</svg>
</body></html>
